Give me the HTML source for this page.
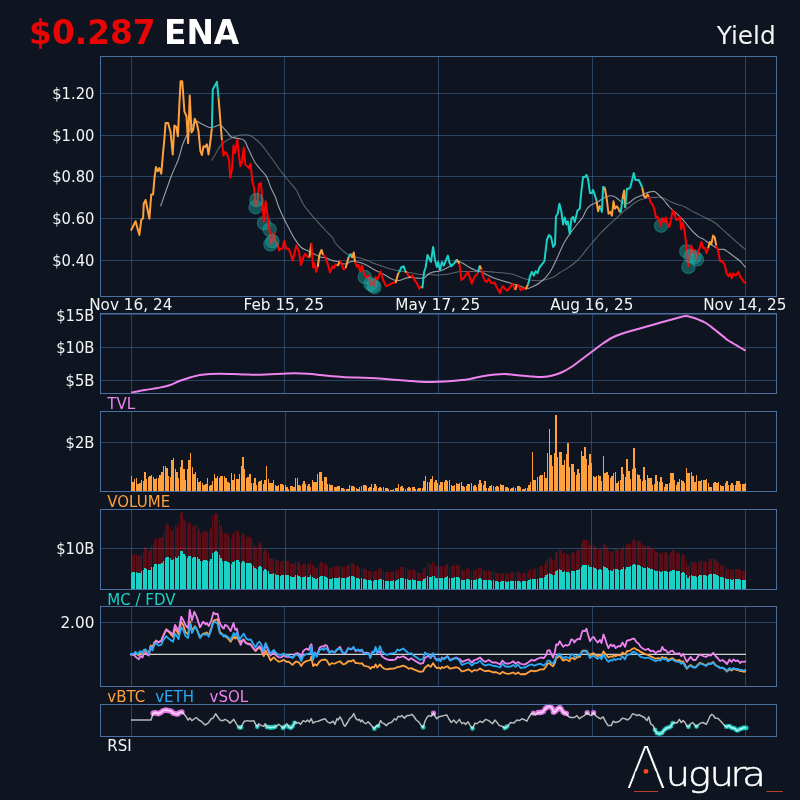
<!DOCTYPE html>
<html lang="en"><head><meta charset="utf-8"><title>ENA Yield</title>
<style>html,body{margin:0;padding:0;background:#0e1520;}body{width:800px;height:800px;overflow:hidden;}svg{display:block;will-change:transform;}</style>
</head><body>
<svg width="800" height="800" viewBox="0 0 800 800" font-family="'DejaVu Sans','Liberation Sans',sans-serif">
<rect width="800" height="800" fill="#0e1520"/>
<text x="29.1" y="44" font-size="32.8" font-weight="bold" fill="#e80505">$0.287</text>
<text x="164" y="44" font-size="32.8" font-weight="bold" fill="#ffffff">ENA</text>
<text x="775.7" y="44" font-size="24.8" fill="#f4f4f4" text-anchor="end">Yield</text>
<path d="M131.5 56.5V296.5M284.5 56.5V296.5M438.5 56.5V296.5M592.5 56.5V296.5M745.5 56.5V296.5" stroke="#4a70a2" stroke-opacity="0.5" stroke-width="1" fill="none" shape-rendering="crispEdges"/>
<path d="M100.5 93.5H776.5M100.5 135.5H776.5M100.5 176.5H776.5M100.5 218.5H776.5M100.5 260.5H776.5" stroke="#4a70a2" stroke-opacity="0.5" stroke-width="1" fill="none" shape-rendering="crispEdges"/>
<path d="M211.25 160.6C211.88 159.67 213.75 157.08 215 155C216.25 152.92 217.29 150.18 218.75 148.1C220.21 146.02 222.08 143.95 223.75 142.5C225.42 141.05 227.08 140.33 228.75 139.4C230.42 138.47 231.88 137.59 233.75 136.9C235.62 136.21 238.12 135.61 240 135.25C241.88 134.89 243.33 134.69 245 134.75C246.67 134.81 248.33 134.93 250 135.6C251.67 136.27 253.12 137.28 255 138.75C256.88 140.22 259.17 142.11 261.25 144.4C263.33 146.69 265.42 149.69 267.5 152.5C269.58 155.31 271.67 158.33 273.75 161.25C275.83 164.17 278.12 167.5 280 170C281.88 172.5 283.33 174.17 285 176.25C286.67 178.33 288.12 180.21 290 182.5C291.88 184.79 294.79 187.92 296.25 190C297.71 192.08 297.5 192.5 298.75 195C300 197.5 301.88 201.98 303.75 205C305.62 208.02 308.12 210.81 310 213.1C311.88 215.39 313.33 216.87 315 218.75C316.67 220.63 318.12 222.32 320 224.4C321.88 226.48 324.17 229.07 326.25 231.25C328.33 233.43 331.04 235.62 332.5 237.5C333.96 239.38 333.75 240.73 335 242.5C336.25 244.27 338.33 246.43 340 248.1C341.67 249.77 343.33 251.25 345 252.5C346.67 253.75 348.33 254.87 350 255.6C351.67 256.33 353.33 256.48 355 256.9C356.67 257.32 357.92 257.48 360 258.1C362.08 258.72 365 259.66 367.5 260.6C370 261.54 372.5 262.81 375 263.75C377.5 264.69 380 265.42 382.5 266.25C385 267.08 387.5 268.02 390 268.75C392.5 269.48 395 270.08 397.5 270.6C400 271.12 402.5 271.48 405 271.9C407.5 272.32 410 272.68 412.5 273.1C415 273.52 417.92 274.08 420 274.4C422.08 274.72 423.33 275 425 275C426.67 275 428.33 274.4 430 274.4C431.67 274.4 433.33 274.9 435 275C436.67 275.1 438.33 275.07 440 275C441.67 274.93 443.33 274.81 445 274.6C446.67 274.39 448.33 274.1 450 273.75C451.67 273.4 453.33 272.88 455 272.5C456.67 272.12 457.92 271.67 460 271.5C462.08 271.33 465 271.5 467.5 271.5C470 271.5 472.71 271.54 475 271.5C477.29 271.46 479.17 271.25 481.25 271.25C483.33 271.25 485.21 271.33 487.5 271.5C489.79 271.67 492.5 272.04 495 272.25C497.5 272.46 500 272.5 502.5 272.75C505 273 507.92 273.38 510 273.75C512.08 274.12 513.12 274.38 515 275C516.88 275.62 519.17 276.77 521.25 277.5C523.33 278.23 525.21 278.88 527.5 279.4C529.79 279.92 532.5 280.43 535 280.6C537.5 280.77 540.21 280.71 542.5 280.4C544.79 280.09 546.67 279.44 548.75 278.75C550.83 278.06 553.12 277.29 555 276.25C556.88 275.21 557.92 273.86 560 272.5C562.08 271.14 565 269.77 567.5 268.1C570 266.43 572.71 264.48 575 262.5C577.29 260.52 579.17 258.65 581.25 256.25C583.33 253.85 585.62 250.39 587.5 248.1C589.38 245.81 590.42 244.89 592.5 242.5C594.58 240.11 597.5 236.46 600 233.75C602.5 231.04 605 228.64 607.5 226.25C610 223.86 612.5 221.69 615 219.4C617.5 217.11 620.21 214.48 622.5 212.5C624.79 210.52 626.67 209.17 628.75 207.5C630.83 205.83 632.92 203.85 635 202.5C637.08 201.15 639.17 200.13 641.25 199.4C643.33 198.67 645.42 198.42 647.5 198.1C649.58 197.78 651.67 197.64 653.75 197.5C655.83 197.36 658.12 197.04 660 197.25C661.88 197.46 663.12 197.97 665 198.75C666.88 199.53 669.17 200.96 671.25 201.9C673.33 202.84 675.21 203.57 677.5 204.4C679.79 205.23 682.71 205.87 685 206.9C687.29 207.93 689.17 209.46 691.25 210.6C693.33 211.74 695.42 212.7 697.5 213.75C699.58 214.8 701.67 215.86 703.75 216.9C705.83 217.94 707.92 218.86 710 220C712.08 221.14 714.17 222.18 716.25 223.75C718.33 225.32 720.42 227.53 722.5 229.4C724.58 231.28 726.67 233.13 728.75 235C730.83 236.87 733.12 238.93 735 240.6C736.88 242.27 738.23 243.53 740 245C741.77 246.47 744.67 248.67 745.6 249.4" fill="none" stroke="#7c7f86" stroke-width="1.05" stroke-linejoin="round" opacity="0.74"/>
<path d="M160.6 206.25C162.38 201.25 168.33 183.96 171.25 176.25C174.17 168.54 176.22 165.21 178.1 160C179.97 154.79 181.03 149.17 182.5 145C183.97 140.83 185.65 137.6 186.9 135C188.15 132.4 189.07 131.07 190 129.4C190.93 127.73 191.35 126.36 192.5 125C193.65 123.64 195.65 121.57 196.9 121.25C198.15 120.93 198.65 122.38 200 123.1C201.35 123.82 203.33 124.87 205 125.6C206.67 126.33 208.33 127.32 210 127.5C211.67 127.68 213.54 127.12 215 126.7C216.46 126.28 217.92 125.28 218.75 125C219.58 124.72 219.38 124.68 220 125C220.62 125.32 221.25 125.65 222.5 126.9C223.75 128.15 226.04 130.83 227.5 132.5C228.96 134.17 229.9 135.97 231.25 136.9C232.6 137.83 234.14 137.79 235.6 138.1C237.06 138.41 238.53 138.33 240 138.75C241.47 139.17 243.15 139.24 244.4 140.6C245.65 141.96 246.36 144.5 247.5 146.9C248.64 149.3 250 152.4 251.25 155C252.5 157.6 253.54 160.21 255 162.5C256.46 164.79 258.33 166.77 260 168.75C261.67 170.73 263.75 172.73 265 174.4C266.25 176.07 266.46 176.36 267.5 178.75C268.54 181.14 270 185.83 271.25 188.75C272.5 191.67 273.75 193.21 275 196.25C276.25 199.29 277.29 203.32 278.75 207C280.21 210.68 282.08 214.78 283.75 218.3C285.42 221.82 286.88 224.58 288.75 228.1C290.62 231.62 292.92 236.17 295 239.4C297.08 242.63 299.17 245.63 301.25 247.5C303.33 249.37 305.42 249.56 307.5 250.6C309.58 251.64 311.67 252.7 313.75 253.75C315.83 254.8 317.92 256.17 320 256.9C322.08 257.62 324.17 257.48 326.25 258.1C328.33 258.72 330.42 260 332.5 260.6C334.58 261.2 337.08 261.18 338.75 261.7C340.42 262.22 341.25 263.41 342.5 263.75C343.75 264.09 345 264.06 346.25 263.75C347.5 263.44 348.75 262.32 350 261.9C351.25 261.48 352.08 261.15 353.75 261.25C355.42 261.35 357.92 261.88 360 262.5C362.08 263.12 364.17 263.96 366.25 265C368.33 266.04 370.42 267.6 372.5 268.75C374.58 269.9 376.67 270.86 378.75 271.9C380.83 272.94 382.92 273.86 385 275C387.08 276.14 389.38 277.82 391.25 278.75C393.12 279.68 394.58 280.39 396.25 280.6C397.92 280.81 399.58 280.42 401.25 280C402.92 279.58 404.58 278.52 406.25 278.1C407.92 277.68 409.58 277.5 411.25 277.5C412.92 277.5 414.38 278 416.25 278.1C418.12 278.2 421.04 278.2 422.5 278.1C423.96 278 423.96 278.23 425 277.5C426.04 276.77 427.29 274.68 428.75 273.75C430.21 272.82 432.08 272.32 433.75 271.9C435.42 271.48 437.08 271.67 438.75 271.25C440.42 270.83 442.08 270.12 443.75 269.4C445.42 268.67 447.08 267.84 448.75 266.9C450.42 265.96 452.19 264.69 453.75 263.75C455.31 262.81 456.64 261.36 458.1 261.25C459.56 261.14 460.73 262.16 462.5 263.1C464.27 264.04 466.67 265.75 468.75 266.9C470.83 268.05 472.92 269.17 475 270C477.08 270.83 479.17 271.07 481.25 271.9C483.33 272.73 485.42 273.97 487.5 275C489.58 276.03 491.67 277.27 493.75 278.1C495.83 278.93 497.92 279.37 500 280C502.08 280.63 504.17 281.27 506.25 281.9C508.33 282.52 510.42 283.13 512.5 283.75C514.58 284.37 517 285.03 518.75 285.6C520.5 286.18 521.54 286.68 523 287.2C524.46 287.72 525.71 288.91 527.5 288.75C529.29 288.59 531.67 287.29 533.75 286.25C535.83 285.21 537.92 284.06 540 282.5C542.08 280.94 544.38 278.98 546.25 276.9C548.12 274.82 549.58 272.82 551.25 270C552.92 267.18 554.58 263.54 556.25 260C557.92 256.46 559.79 251.88 561.25 248.75C562.71 245.62 563.33 244.06 565 241.25C566.67 238.44 569.17 234.82 571.25 231.9C573.33 228.98 575.62 226.15 577.5 223.75C579.38 221.35 581.04 219.79 582.5 217.5C583.96 215.21 585.1 211.88 586.25 210C587.4 208.12 588.15 207.29 589.4 206.25C590.65 205.21 592.19 204.58 593.75 203.75C595.31 202.92 597.08 202.19 598.75 201.25C600.42 200.31 602.08 198.97 603.75 198.1C605.42 197.22 607.08 196.31 608.75 196C610.42 195.69 612.29 195.79 613.75 196.25C615.21 196.71 616.25 197.81 617.5 198.75C618.75 199.69 620 201.07 621.25 201.9C622.5 202.73 623.75 203.55 625 203.75C626.25 203.95 627.5 203.72 628.75 203.1C630 202.47 631.25 200.93 632.5 200C633.75 199.07 634.79 198.23 636.25 197.5C637.71 196.77 639.58 196.33 641.25 195.6C642.92 194.87 644.79 193.72 646.25 193.1C647.71 192.48 648.64 192.17 650 191.9C651.36 191.63 652.94 190.98 654.4 191.5C655.86 192.02 657.19 193.58 658.75 195C660.31 196.42 662.08 198.12 663.75 200C665.42 201.88 667.08 204.38 668.75 206.25C670.42 208.12 672.08 209.69 673.75 211.25C675.42 212.81 677.08 214.04 678.75 215.6C680.42 217.16 682.08 218.72 683.75 220.6C685.42 222.48 687.08 224.92 688.75 226.9C690.42 228.88 692.08 230.83 693.75 232.5C695.42 234.17 697.08 235.75 698.75 236.9C700.42 238.05 702.08 238.37 703.75 239.4C705.42 240.43 707.08 241.96 708.75 243.1C710.42 244.24 712.08 245.2 713.75 246.25C715.42 247.3 717.08 248.88 718.75 249.4C720.42 249.93 722.08 248.88 723.75 249.4C725.42 249.92 727.08 251.36 728.75 252.5C730.42 253.64 732.08 255 733.75 256.25C735.42 257.5 737.29 258.75 738.75 260C740.21 261.25 741.36 262.5 742.5 263.75C743.64 265 745.08 266.88 745.6 267.5" fill="none" stroke="#b0b3b8" stroke-width="1.1" stroke-linejoin="round" opacity="0.88"/>
<circle cx="255.6" cy="207.2" r="6.7" fill="#20b2aa" fill-opacity="0.4" stroke="#20b2aa" stroke-opacity="0.4" stroke-width="1.2"/>
<circle cx="264" cy="223.2" r="6.7" fill="#20b2aa" fill-opacity="0.4" stroke="#20b2aa" stroke-opacity="0.4" stroke-width="1.2"/>
<circle cx="269.6" cy="229.6" r="6.7" fill="#20b2aa" fill-opacity="0.4" stroke="#20b2aa" stroke-opacity="0.4" stroke-width="1.2"/>
<circle cx="270.4" cy="244.4" r="6.7" fill="#20b2aa" fill-opacity="0.4" stroke="#20b2aa" stroke-opacity="0.4" stroke-width="1.2"/>
<circle cx="364.75" cy="277" r="6.7" fill="#20b2aa" fill-opacity="0.4" stroke="#20b2aa" stroke-opacity="0.4" stroke-width="1.2"/>
<circle cx="373" cy="285.5" r="6.7" fill="#20b2aa" fill-opacity="0.4" stroke="#20b2aa" stroke-opacity="0.4" stroke-width="1.2"/>
<circle cx="374.5" cy="287" r="6.7" fill="#20b2aa" fill-opacity="0.4" stroke="#20b2aa" stroke-opacity="0.4" stroke-width="1.2"/>
<circle cx="661.1" cy="225.7" r="6.7" fill="#20b2aa" fill-opacity="0.4" stroke="#20b2aa" stroke-opacity="0.4" stroke-width="1.2"/>
<circle cx="686.25" cy="251.25" r="6.7" fill="#20b2aa" fill-opacity="0.4" stroke="#20b2aa" stroke-opacity="0.4" stroke-width="1.2"/>
<circle cx="688.4" cy="266.9" r="6.7" fill="#20b2aa" fill-opacity="0.4" stroke="#20b2aa" stroke-opacity="0.4" stroke-width="1.2"/>
<circle cx="694.4" cy="256.9" r="6.7" fill="#20b2aa" fill-opacity="0.4" stroke="#20b2aa" stroke-opacity="0.4" stroke-width="1.2"/>
<circle cx="696.9" cy="259.4" r="6.7" fill="#20b2aa" fill-opacity="0.4" stroke="#20b2aa" stroke-opacity="0.4" stroke-width="1.2"/>
<polyline points="130.9,230.6 133.1,226.25 135.6,221.25 136.9,226.25 139.4,235 141.25,220 143.1,218.1 143.75,203.75 145.6,200 149.4,218.75 151.25,194.4 153.1,194.4 154.4,178.75 156,166.9 157.75,171.25 159.4,168.1 161.25,173.75 163.1,152.5 164.4,138.75 165.6,123.1 168.1,123.1 170.6,132.5 172.75,154.4 174.4,125.6 176.25,126.9 177.9,136.25 179.4,103.75 180.6,81.25 182.25,81.25 184.4,111.25 186.5,116.25 188.1,143.1 189.75,95.6 191.5,132.5 193.1,130 194.75,118.75 196.9,123.75 198.5,131.25 200.4,151.25 201.9,155 203.5,146.25 205.25,146.9 206.9,144.4 208.5,154.4 210.25,142.5 211.9,128.1" fill="none" stroke="#ffa03c" stroke-width="2" stroke-linejoin="round" stroke-linecap="butt"/>
<polyline points="211.9,128.1 212.75,89.4 216.9,81.9 218.5,97.5" fill="none" stroke="#19d1c5" stroke-width="2" stroke-linejoin="round" stroke-linecap="butt"/>
<polyline points="218.5,97.5 220,116.25 221.9,140" fill="none" stroke="#ffa03c" stroke-width="2" stroke-linejoin="round" stroke-linecap="butt"/>
<polyline points="221.9,140 223.5,155.6 225,151.9 226.9,153.75 229,160 230.25,177.5 231.9,170 233.5,145.6 235,153.1 237.25,139.4 238.75,153.75 240.4,166.25 241.9,162.5 243.75,147.5 245.4,165 247.25,166.25 248.75,168.1 250.6,163.75 252.25,181.25 254,187.5 255.6,206.25 257.5,200 259,184.4 260.9,183.1 262.5,201.9 263.75,221.9 265.6,201.25 267.5,215 269.4,228.75 271,243.75 274,233.1 275.6,242.5 277.25,243.1 279,250.6 280.6,248.75 282.5,248.75 284.4,240.6 286.25,248.75 288.75,248.75 290.6,253.75 292.75,260.6 294.4,253.75 296.25,245.6 298.75,250.6 301,265 303.1,258.1 305,253.75 306.9,256.25 309.4,257.5" fill="none" stroke="#ff0000" stroke-width="2" stroke-linejoin="round" stroke-linecap="butt"/>
<polyline points="309.4,257.5 311.25,243.1" fill="none" stroke="#ffa03c" stroke-width="2" stroke-linejoin="round" stroke-linecap="butt"/>
<polyline points="311.25,243.1 313.1,267.5 314.4,263.1 316.25,271.9 317.75,266.9" fill="none" stroke="#ff0000" stroke-width="2" stroke-linejoin="round" stroke-linecap="butt"/>
<polyline points="317.75,266.9 319.4,255 321.5,250 323.1,255" fill="none" stroke="#ffa03c" stroke-width="2" stroke-linejoin="round" stroke-linecap="butt"/>
<polyline points="323.1,255 325,256.25 328.1,265 330,272.5 332.5,266.25 334,268.1 335.6,264.4 336.9,265.5" fill="none" stroke="#ff0000" stroke-width="2" stroke-linejoin="round" stroke-linecap="butt"/>
<polyline points="336.9,265.5 338.1,265 340,260.6" fill="none" stroke="#ffa03c" stroke-width="2" stroke-linejoin="round" stroke-linecap="butt"/>
<polyline points="340,260.6 341.9,265 343.5,269.4 345.6,268.1" fill="none" stroke="#ff0000" stroke-width="2" stroke-linejoin="round" stroke-linecap="butt"/>
<polyline points="345.6,268.1 347.5,261.25 348.75,256.9" fill="none" stroke="#ffa03c" stroke-width="2" stroke-linejoin="round" stroke-linecap="butt"/>
<polyline points="348.75,256.9 350.25,254.4" fill="none" stroke="#19d1c5" stroke-width="2" stroke-linejoin="round" stroke-linecap="butt"/>
<polyline points="350.25,254.4 351,253.75" fill="none" stroke="#ffa03c" stroke-width="2" stroke-linejoin="round" stroke-linecap="butt"/>
<polyline points="351,253.75 352,258" fill="none" stroke="#19d1c5" stroke-width="2" stroke-linejoin="round" stroke-linecap="butt"/>
<polyline points="352,258 353.75,252.5 355,261.9" fill="none" stroke="#ffa03c" stroke-width="2" stroke-linejoin="round" stroke-linecap="butt"/>
<polyline points="355,261.9 356.9,266.9 358.5,265 360,271.25 361.9,265.6 364.4,275 366.25,277.5 368.1,275.6 370.6,285 372.5,281.9 374,286.25 375.6,276.9 377.5,279.4 380.6,271.25 383.1,280 386.25,286.25 390,284.4 393.1,282.5 395.6,283.1" fill="none" stroke="#ff0000" stroke-width="2" stroke-linejoin="round" stroke-linecap="butt"/>
<polyline points="395.6,283.1 398.1,273.75 399,272.5" fill="none" stroke="#ffa03c" stroke-width="2" stroke-linejoin="round" stroke-linecap="butt"/>
<polyline points="399,272.5 401.25,267.5 403.75,266.25 405.25,271.25" fill="none" stroke="#19d1c5" stroke-width="2" stroke-linejoin="round" stroke-linecap="butt"/>
<polyline points="405.25,271.25 406.9,272.5" fill="none" stroke="#ffa03c" stroke-width="2" stroke-linejoin="round" stroke-linecap="butt"/>
<polyline points="406.9,272.5 408.75,277" fill="none" stroke="#ff0000" stroke-width="2" stroke-linejoin="round" stroke-linecap="butt"/>
<polyline points="408.75,277 410.6,276.9" fill="none" stroke="#ffa03c" stroke-width="2" stroke-linejoin="round" stroke-linecap="butt"/>
<polyline points="410.6,276.9 412.5,275.6 414.4,280 416.9,283.1 419.4,288.75 421.25,286.25" fill="none" stroke="#ff0000" stroke-width="2" stroke-linejoin="round" stroke-linecap="butt"/>
<polyline points="421.25,286.25 422.5,287.5 424,272.5 425.6,267.5 427.5,255 429.4,258.75 431,261.9 433.1,246.9 435,260 436.9,266.9 438.1,261.9 440,270 441.9,261.9 443.75,265.6 445.6,261.25 447.9,255.6 449.4,262.5 451.25,266.25 453.75,263.75 456.9,259.4" fill="none" stroke="#19d1c5" stroke-width="2" stroke-linejoin="round" stroke-linecap="butt"/>
<polyline points="456.9,259.4 459.4,263.75" fill="none" stroke="#ffa03c" stroke-width="2" stroke-linejoin="round" stroke-linecap="butt"/>
<polyline points="459.4,263.75 461.5,280 463.75,278.1 466.25,274.4 468.1,271.9 470,278.1 471.9,283.75 474.4,276.9 476.25,275 478.1,272.5" fill="none" stroke="#ff0000" stroke-width="2" stroke-linejoin="round" stroke-linecap="butt"/>
<polyline points="478.1,272.5 479.75,265.6" fill="none" stroke="#19d1c5" stroke-width="2" stroke-linejoin="round" stroke-linecap="butt"/>
<polyline points="479.75,265.6 481.25,269.4" fill="none" stroke="#ffa03c" stroke-width="2" stroke-linejoin="round" stroke-linecap="butt"/>
<polyline points="481.25,269.4 483.1,276.25 485,280.6 486.9,281.9 488.75,278.75 491.25,283.1 493.1,283.1 494.4,282.5 496.9,287.5 500,293.1 502.5,286.25 505,288.75 507.5,290.6 510,287.5 512.5,283.75 514.4,288.5 515.2,290" fill="none" stroke="#ff0000" stroke-width="2" stroke-linejoin="round" stroke-linecap="butt"/>
<polyline points="515.2,290 516.9,284.6" fill="none" stroke="#ffa03c" stroke-width="2" stroke-linejoin="round" stroke-linecap="butt"/>
<polyline points="516.9,284.6 518.5,285 520.6,290 522.5,289.4 524.4,288.1 525.6,289.4" fill="none" stroke="#ff0000" stroke-width="2" stroke-linejoin="round" stroke-linecap="butt"/>
<polyline points="525.6,289.4 528.1,284.4" fill="none" stroke="#ffa03c" stroke-width="2" stroke-linejoin="round" stroke-linecap="butt"/>
<polyline points="528.1,284.4 530,276.25 531.9,271.9 533.75,275.6 535.6,271.25 537.5,273.1 539.4,267.5 541.9,264.4 544.4,261.25 546.9,240 549,235 551,236.9 553.1,246.9 555,244.4 556,216.25 557.75,213.75 559.4,203.75 561.2,210.5 563.1,224.4 564.75,217.5 566.25,224.4 567.75,221.25 569.75,233.9 571.5,218.4 573.1,216.9 574.75,221.9 577.5,210.6 579.75,208.75 581.25,192.5 583.1,176.9 585,176.9 586.6,175 588.1,179.4 590,193.1 591.9,193.1 593.1,190 595,195.6 596.6,201.25" fill="none" stroke="#19d1c5" stroke-width="2" stroke-linejoin="round" stroke-linecap="butt"/>
<polyline points="596.6,201.25 598.1,211.25 599.75,206.25 600.6,207.5" fill="none" stroke="#ffa03c" stroke-width="2" stroke-linejoin="round" stroke-linecap="butt"/>
<polyline points="600.6,207.5 601.9,211.9 603.1,186.9 604.75,187.5" fill="none" stroke="#19d1c5" stroke-width="2" stroke-linejoin="round" stroke-linecap="butt"/>
<polyline points="604.75,187.5 606.9,200 608.5,213.75 610.4,211.9 611.9,215.6 613.5,201.25 615,208.75 616.9,206.25 618.5,208.75 620,212.5" fill="none" stroke="#ffa03c" stroke-width="2" stroke-linejoin="round" stroke-linecap="butt"/>
<polyline points="620,212.5 620.9,211.25 622.5,198.75" fill="none" stroke="#19d1c5" stroke-width="2" stroke-linejoin="round" stroke-linecap="butt"/>
<polyline points="622.5,198.75 624.1,190.6 625.2,208.1" fill="none" stroke="#ffa03c" stroke-width="2" stroke-linejoin="round" stroke-linecap="butt"/>
<polyline points="625.2,208.1 626.9,188.75 628.75,188.75 630.25,187.5 632.25,179.4 633.75,173.1 635.4,180 638.75,180 640.6,183.75 642.25,187.5" fill="none" stroke="#19d1c5" stroke-width="2" stroke-linejoin="round" stroke-linecap="butt"/>
<polyline points="642.25,187.5 644,196.25 645.6,197.5 647.5,194.4 649,196.9" fill="none" stroke="#ffa03c" stroke-width="2" stroke-linejoin="round" stroke-linecap="butt"/>
<polyline points="649,196.9 650.6,202.5 652.5,204.4 654.4,209.4 656,217.5 657.5,216.9 659,220 660.6,225.6 662.5,218.1 664,221.9 665.9,217.5 667.5,223.75 669.4,226.9 671.25,218.1 672.75,210.6 674.4,213.1 676.25,220 678.1,219.4 679.75,216.9 681.25,229.4 682.75,222.5 684.4,229.4 686.25,245 688.1,266.25 689.75,255 691.25,245.6 693.1,252.5 694.75,250 696.5,259.4 698.1,251.9 699.75,247.5 701.5,241.9 703.1,248.1 705,248.1 706.6,253.1 708.1,248.1" fill="none" stroke="#ff0000" stroke-width="2" stroke-linejoin="round" stroke-linecap="butt"/>
<polyline points="708.1,248.1 710,241.9 711.25,244.4 713.1,235.6 714.75,237.5 716.25,245.6" fill="none" stroke="#ffa03c" stroke-width="2" stroke-linejoin="round" stroke-linecap="butt"/>
<polyline points="716.25,245.6 718.1,250.6 720,261 722.8,261.9 724.9,265.3 726.5,273.4 728.5,276.25 730.1,273.4 731.7,278.1 733.3,273.4 735.6,275.6 738.4,271.9 740.4,277.2 742.2,279 743.75,281.9 746.25,283.1" fill="none" stroke="#ff0000" stroke-width="2" stroke-linejoin="round" stroke-linecap="butt"/>
<circle cx="256.4" cy="200" r="6.7" fill="#20b2aa" fill-opacity="0.4" stroke="#20b2aa" stroke-opacity="0.4" stroke-width="1.2"/>
<circle cx="272.4" cy="241.2" r="6.7" fill="#20b2aa" fill-opacity="0.4" stroke="#20b2aa" stroke-opacity="0.4" stroke-width="1.2"/>
<circle cx="370.5" cy="284" r="6.7" fill="#20b2aa" fill-opacity="0.4" stroke="#20b2aa" stroke-opacity="0.4" stroke-width="1.2"/>
<circle cx="690.6" cy="256.25" r="6.7" fill="#20b2aa" fill-opacity="0.4" stroke="#20b2aa" stroke-opacity="0.4" stroke-width="1.2"/>
<rect x="100.5" y="56.5" width="676" height="240" fill="none" stroke="#4a70a2" stroke-width="1" shape-rendering="crispEdges"/>
<text transform="translate(94.4,99.2) scale(0.965,1)" font-size="15.28" fill="#f4f4f4" text-anchor="end">$1.20</text>
<text transform="translate(94.4,141.2) scale(0.965,1)" font-size="15.28" fill="#f4f4f4" text-anchor="end">$1.00</text>
<text transform="translate(94.4,182.2) scale(0.965,1)" font-size="15.28" fill="#f4f4f4" text-anchor="end">$0.80</text>
<text transform="translate(94.4,224.2) scale(0.965,1)" font-size="15.28" fill="#f4f4f4" text-anchor="end">$0.60</text>
<text transform="translate(94.4,266.2) scale(0.965,1)" font-size="15.28" fill="#f4f4f4" text-anchor="end">$0.40</text>
<text x="130.75" y="310.3" font-size="15.28" fill="#f4f4f4" text-anchor="middle">Nov 16, 24</text>
<text x="283.75" y="310.3" font-size="15.28" fill="#f4f4f4" text-anchor="middle">Feb 15, 25</text>
<text x="437.75" y="310.3" font-size="15.28" fill="#f4f4f4" text-anchor="middle">May 17, 25</text>
<text x="591.75" y="310.3" font-size="15.28" fill="#f4f4f4" text-anchor="middle">Aug 16, 25</text>
<text x="744.75" y="310.3" font-size="15.28" fill="#f4f4f4" text-anchor="middle">Nov 14, 25</text>
<path d="M131.5 313.5V393.5M284.5 313.5V393.5M438.5 313.5V393.5M592.5 313.5V393.5M745.5 313.5V393.5" stroke="#4a70a2" stroke-opacity="0.5" stroke-width="1" fill="none" shape-rendering="crispEdges"/>
<path d="M100.5 314.5H776.5M100.5 347.5H776.5M100.5 380.5H776.5" stroke="#4a70a2" stroke-opacity="0.5" stroke-width="1" fill="none" shape-rendering="crispEdges"/>
<path d="M131.25 392.5C133.54 392.08 140.62 390.75 145 390C149.38 389.25 153.54 388.75 157.5 388C161.46 387.25 165 386.71 168.75 385.5C172.5 384.29 176.46 382.08 180 380.75C183.54 379.42 186.67 378.46 190 377.5C193.33 376.54 196.67 375.58 200 375C203.33 374.42 206.67 374.21 210 374C213.33 373.79 216.25 373.75 220 373.75C223.75 373.75 228.33 373.88 232.5 374C236.67 374.12 240.83 374.38 245 374.5C249.17 374.62 253.33 374.79 257.5 374.75C261.67 374.71 265.83 374.42 270 374.25C274.17 374.08 278.33 373.92 282.5 373.75C286.67 373.58 290.83 373.25 295 373.25C299.17 373.25 303.33 373.48 307.5 373.75C311.67 374.02 315.83 374.48 320 374.9C324.17 375.32 328.33 375.86 332.5 376.25C336.67 376.64 340.83 377.04 345 377.25C349.17 377.46 353.33 377.38 357.5 377.5C361.67 377.62 365.83 377.79 370 378C374.17 378.21 378.33 378.46 382.5 378.75C386.67 379.04 390.83 379.42 395 379.75C399.17 380.08 403.33 380.42 407.5 380.75C411.67 381.08 415.83 381.54 420 381.75C424.17 381.96 428.33 382.04 432.5 382C436.67 381.96 440.83 381.75 445 381.5C449.17 381.25 453.33 380.92 457.5 380.5C461.67 380.08 465.83 379.71 470 379C474.17 378.29 478.33 377 482.5 376.25C486.67 375.5 491.25 374.88 495 374.5C498.75 374.12 500.83 373.85 505 374C509.17 374.15 515.42 374.98 520 375.4C524.58 375.82 528.75 376.23 532.5 376.5C536.25 376.77 539.17 377.17 542.5 377C545.83 376.83 549.17 376.33 552.5 375.5C555.83 374.67 559.17 373.54 562.5 372C565.83 370.46 569.17 368.46 572.5 366.25C575.83 364.04 579.17 361.25 582.5 358.75C585.83 356.25 589.17 353.75 592.5 351.25C595.83 348.75 599.17 346.04 602.5 343.75C605.83 341.46 609.17 339.21 612.5 337.5C615.83 335.79 619.17 334.67 622.5 333.5C625.83 332.33 628.75 331.58 632.5 330.5C636.25 329.42 640.83 328.17 645 327C649.17 325.83 653.33 324.67 657.5 323.5C661.67 322.33 666.25 321.03 670 320C673.75 318.97 677.4 317.97 680 317.3C682.6 316.63 683.52 315.97 685.6 316C687.68 316.03 690.31 316.88 692.5 317.5C694.69 318.12 696.67 318.92 698.75 319.75C700.83 320.58 702.92 321.31 705 322.5C707.08 323.69 709.17 325.33 711.25 326.9C713.33 328.47 715.42 330.23 717.5 331.9C719.58 333.57 722.08 335.55 723.75 336.9C725.42 338.25 725.83 338.86 727.5 340C729.17 341.14 731.67 342.5 733.75 343.75C735.83 345 738.02 346.36 740 347.5C741.98 348.64 744.67 350.08 745.6 350.6" fill="none" stroke="#ee82ee" stroke-width="2" stroke-linejoin="round"/>
<rect x="100.5" y="313.5" width="676" height="80" fill="none" stroke="#4a70a2" stroke-width="1" shape-rendering="crispEdges"/>
<text transform="translate(94.4,320.6) scale(0.965,1)" font-size="15.28" fill="#f4f4f4" text-anchor="end">$15B</text>
<text transform="translate(94.4,353.2) scale(0.965,1)" font-size="15.28" fill="#f4f4f4" text-anchor="end">$10B</text>
<text transform="translate(94.4,386.2) scale(0.965,1)" font-size="15.28" fill="#f4f4f4" text-anchor="end">$5B</text>
<text x="107.3" y="408.8" font-size="15" fill="#ee82ee">TVL</text>
<path d="M131.5 411.5V491.5M285.5 411.5V491.5M438.5 411.5V491.5M591.5 411.5V491.5M745.5 411.5V491.5" stroke="#4a70a2" stroke-opacity="0.5" stroke-width="1" fill="none" shape-rendering="crispEdges"/>
<path d="M100.5 442.5H776.5" stroke="#4a70a2" stroke-opacity="0.5" stroke-width="1" fill="none" shape-rendering="crispEdges"/>
<path d="M130.72 491.5v-15.5h1.35v15.5zM132.42 491.5v-9.5h1.35v9.5zM134.11 491.5v-12.5h1.35v12.5zM135.8 491.5v-13.5h1.35v13.5zM137.49 491.5v-7.5h1.35v7.5zM139.18 491.5v-8.5h1.35v8.5zM140.88 491.5v-11.5h1.35v11.5zM142.57 491.5v-10.5h1.35v10.5zM144.26 491.5v-19.5h1.35v19.5zM145.95 491.5v-12.5h1.35v12.5zM147.64 491.5v-14.5h1.35v14.5zM149.34 491.5v-15.5h1.35v15.5zM151.03 491.5v-16.5h1.35v16.5zM152.72 491.5v-14.5h1.35v14.5zM154.41 491.5v-13h1.35v13zM156.1 491.5v-13.5h1.35v13.5zM157.8 491.5v-14h1.35v14zM159.49 491.5v-16.5h1.35v16.5zM161.18 491.5v-19.5h1.35v19.5zM162.87 491.5v-25.5h1.35v25.5zM164.56 491.5v-25.5h1.35v25.5zM166.26 491.5v-23.5h1.35v23.5zM167.95 491.5v-15.5h1.35v15.5zM169.64 491.5v-14.5h1.35v14.5zM171.33 491.5v-31.5h1.35v31.5zM173.02 491.5v-33.5h1.35v33.5zM174.72 491.5v-22.5h1.35v22.5zM176.41 491.5v-19.5h1.35v19.5zM178.1 491.5v-13.5h1.35v13.5zM179.79 491.5v-24.5h1.35v24.5zM181.48 491.5v-31.5h1.35v31.5zM183.18 491.5v-23h1.35v23zM184.87 491.5v-11.5h1.35v11.5zM186.56 491.5v-22.5h1.35v22.5zM188.25 491.5v-31.5h1.35v31.5zM189.94 491.5v-38.5h1.35v38.5zM191.64 491.5v-24.5h1.35v24.5zM193.33 491.5v-17.5h1.35v17.5zM195.02 491.5v-19.5h1.35v19.5zM196.71 491.5v-13.5h1.35v13.5zM198.4 491.5v-9.5h1.35v9.5zM200.1 491.5v-10.5h1.35v10.5zM201.79 491.5v-8.5h1.35v8.5zM203.48 491.5v-6.5h1.35v6.5zM205.17 491.5v-7.5h1.35v7.5zM206.86 491.5v-13.5h1.35v13.5zM208.56 491.5v-5.5h1.35v5.5zM210.25 491.5v-6.5h1.35v6.5zM211.94 491.5v-10.5h1.35v10.5zM213.63 491.5v-17.5h1.35v17.5zM215.32 491.5v-13.5h1.35v13.5zM217.02 491.5v-15.5h1.35v15.5zM218.71 491.5v-14h1.35v14zM220.4 491.5v-15.5h1.35v15.5zM222.09 491.5v-15.5h1.35v15.5zM223.78 491.5v-15.5h1.35v15.5zM225.48 491.5v-14h1.35v14zM227.17 491.5v-9.5h1.35v9.5zM228.86 491.5v-8.5h1.35v8.5zM230.55 491.5v-18.5h1.35v18.5zM232.24 491.5v-11.5h1.35v11.5zM233.94 491.5v-17.5h1.35v17.5zM235.63 491.5v-12.5h1.35v12.5zM237.32 491.5v-12.5h1.35v12.5zM239.01 491.5v-17.5h1.35v17.5zM240.7 491.5v-25.5h1.35v25.5zM242.4 491.5v-34.5h1.35v34.5zM244.09 491.5v-22.5h1.35v22.5zM245.78 491.5v-13.5h1.35v13.5zM247.47 491.5v-14.5h1.35v14.5zM249.16 491.5v-17.5h1.35v17.5zM250.86 491.5v-8.5h1.35v8.5zM252.55 491.5v-8.5h1.35v8.5zM254.24 491.5v-13.5h1.35v13.5zM255.93 491.5v-6.5h1.35v6.5zM257.62 491.5v-9.5h1.35v9.5zM259.32 491.5v-10.5h1.35v10.5zM261.01 491.5v-11.5h1.35v11.5zM262.7 491.5v-7.5h1.35v7.5zM264.39 491.5v-11.5h1.35v11.5zM266.08 491.5v-25.5h1.35v25.5zM267.78 491.5v-12.5h1.35v12.5zM269.47 491.5v-8.5h1.35v8.5zM271.16 491.5v-8.5h1.35v8.5zM272.85 491.5v-11.5h1.35v11.5zM274.54 491.5v-6.5h1.35v6.5zM276.24 491.5v-5.5h1.35v5.5zM277.93 491.5v-6.5h1.35v6.5zM279.62 491.5v-7.5h1.35v7.5zM281.31 491.5v-7.5h1.35v7.5zM283 491.5v-7h1.35v7zM284.7 491.5v-7h1.35v7zM286.39 491.5v-4.5h1.35v4.5zM288.08 491.5v-2.5h1.35v2.5zM289.77 491.5v-5.5h1.35v5.5zM291.46 491.5v-5.5h1.35v5.5zM293.16 491.5v-4.5h1.35v4.5zM294.85 491.5v-13.5h1.35v13.5zM296.54 491.5v-13.5h1.35v13.5zM298.23 491.5v-6.5h1.35v6.5zM299.92 491.5v-5.5h1.35v5.5zM301.62 491.5v-7.5h1.35v7.5zM303.31 491.5v-10.5h1.35v10.5zM305 491.5v-7.5h1.35v7.5zM306.69 491.5v-5.5h1.35v5.5zM308.38 491.5v-7.5h1.35v7.5zM310.08 491.5v-4.5h1.35v4.5zM311.77 491.5v-11.5h1.35v11.5zM313.46 491.5v-9.5h1.35v9.5zM315.15 491.5v-9.5h1.35v9.5zM316.84 491.5v-17.5h1.35v17.5zM318.54 491.5v-19.5h1.35v19.5zM320.23 491.5v-19.5h1.35v19.5zM321.92 491.5v-10.5h1.35v10.5zM323.61 491.5v-14.5h1.35v14.5zM325.3 491.5v-14.5h1.35v14.5zM327 491.5v-7.5h1.35v7.5zM328.69 491.5v-7.5h1.35v7.5zM330.38 491.5v-6.5h1.35v6.5zM332.07 491.5v-6.5h1.35v6.5zM333.76 491.5v-4.5h1.35v4.5zM335.46 491.5v-4.5h1.35v4.5zM337.15 491.5v-5.5h1.35v5.5zM338.84 491.5v-5.5h1.35v5.5zM340.53 491.5v-3.5h1.35v3.5zM342.22 491.5v-3.5h1.35v3.5zM343.92 491.5v-2.5h1.35v2.5zM345.61 491.5v-2.5h1.35v2.5zM347.3 491.5v-2.5h1.35v2.5zM348.99 491.5v-6.5h1.35v6.5zM350.68 491.5v-5.5h1.35v5.5zM352.38 491.5v-5.5h1.35v5.5zM354.07 491.5v-4.5h1.35v4.5zM355.76 491.5v-3.5h1.35v3.5zM357.45 491.5v-2.5h1.35v2.5zM359.14 491.5v-4.5h1.35v4.5zM360.84 491.5v-5.5h1.35v5.5zM362.53 491.5v-6.5h1.35v6.5zM364.22 491.5v-6.5h1.35v6.5zM365.91 491.5v-5.5h1.35v5.5zM367.6 491.5v-3.5h1.35v3.5zM369.3 491.5v-4.5h1.35v4.5zM370.99 491.5v-7.5h1.35v7.5zM372.68 491.5v-3.5h1.35v3.5zM374.37 491.5v-7.5h1.35v7.5zM376.06 491.5v-5.5h1.35v5.5zM377.76 491.5v-3.5h1.35v3.5zM379.45 491.5v-4.5h1.35v4.5zM381.14 491.5v-3.5h1.35v3.5zM382.83 491.5v-4.5h1.35v4.5zM384.52 491.5v-3.5h1.35v3.5zM386.22 491.5v-3.5h1.35v3.5zM387.91 491.5v-2.5h1.35v2.5zM389.6 491.5v-1.5h1.35v1.5zM391.29 491.5v-1.5h1.35v1.5zM392.98 491.5v-2.5h1.35v2.5zM394.68 491.5v-3.5h1.35v3.5zM396.37 491.5v-3.5h1.35v3.5zM398.06 491.5v-7.5h1.35v7.5zM399.75 491.5v-4.5h1.35v4.5zM401.44 491.5v-5.5h1.35v5.5zM403.14 491.5v-3.5h1.35v3.5zM404.83 491.5v-2.5h1.35v2.5zM406.52 491.5v-3.5h1.35v3.5zM408.21 491.5v-4.5h1.35v4.5zM409.91 491.5v-3.5h1.35v3.5zM411.6 491.5v-4.5h1.35v4.5zM413.29 491.5v-4.5h1.35v4.5zM414.98 491.5v-2.5h1.35v2.5zM416.67 491.5v-2.5h1.35v2.5zM418.37 491.5v-3.5h1.35v3.5zM420.06 491.5v-3.5h1.35v3.5zM421.75 491.5v-3.5h1.35v3.5zM423.44 491.5v-10.5h1.35v10.5zM425.13 491.5v-15.5h1.35v15.5zM426.83 491.5v-9.5h1.35v9.5zM428.52 491.5v-9.5h1.35v9.5zM430.21 491.5v-12.5h1.35v12.5zM431.9 491.5v-15.5h1.35v15.5zM433.59 491.5v-9.5h1.35v9.5zM435.29 491.5v-11.5h1.35v11.5zM436.98 491.5v-8.5h1.35v8.5zM438.67 491.5v-6.5h1.35v6.5zM440.36 491.5v-9.5h1.35v9.5zM442.05 491.5v-9.5h1.35v9.5zM443.75 491.5v-9.5h1.35v9.5zM445.44 491.5v-11.5h1.35v11.5zM447.13 491.5v-10.5h1.35v10.5zM448.82 491.5v-11.5h1.35v11.5zM450.51 491.5v-6.5h1.35v6.5zM452.21 491.5v-5.5h1.35v5.5zM453.9 491.5v-6.5h1.35v6.5zM455.59 491.5v-8.5h1.35v8.5zM457.28 491.5v-7.5h1.35v7.5zM458.97 491.5v-8.5h1.35v8.5zM460.67 491.5v-9.5h1.35v9.5zM462.36 491.5v-5.5h1.35v5.5zM464.05 491.5v-4.5h1.35v4.5zM465.74 491.5v-5.5h1.35v5.5zM467.43 491.5v-7.5h1.35v7.5zM469.13 491.5v-7.5h1.35v7.5zM470.82 491.5v-8.5h1.35v8.5zM472.51 491.5v-5.5h1.35v5.5zM474.2 491.5v-6.5h1.35v6.5zM475.89 491.5v-4.5h1.35v4.5zM477.59 491.5v-7.5h1.35v7.5zM479.28 491.5v-11.5h1.35v11.5zM480.97 491.5v-8.5h1.35v8.5zM482.66 491.5v-6.5h1.35v6.5zM484.35 491.5v-10.5h1.35v10.5zM486.05 491.5v-3.5h1.35v3.5zM487.74 491.5v-3.5h1.35v3.5zM489.43 491.5v-5.5h1.35v5.5zM491.12 491.5v-6.5h1.35v6.5zM492.81 491.5v-5.5h1.35v5.5zM494.51 491.5v-4.5h1.35v4.5zM496.2 491.5v-5.5h1.35v5.5zM497.89 491.5v-4.5h1.35v4.5zM499.58 491.5v-7.5h1.35v7.5zM501.27 491.5v-6.5h1.35v6.5zM502.97 491.5v-6.5h1.35v6.5zM504.66 491.5v-4.5h1.35v4.5zM506.35 491.5v-4.5h1.35v4.5zM508.04 491.5v-3.5h1.35v3.5zM509.73 491.5v-2.5h1.35v2.5zM511.43 491.5v-3.5h1.35v3.5zM513.12 491.5v-4.5h1.35v4.5zM514.81 491.5v-3.5h1.35v3.5zM516.5 491.5v-5.5h1.35v5.5zM518.19 491.5v-5.5h1.35v5.5zM519.89 491.5v-4.5h1.35v4.5zM521.58 491.5v-2.5h1.35v2.5zM523.27 491.5v-2.5h1.35v2.5zM524.96 491.5v-3.5h1.35v3.5zM526.65 491.5v-3.5h1.35v3.5zM528.35 491.5v-6.5h1.35v6.5zM530.04 491.5v-9.5h1.35v9.5zM531.73 491.5v-39.5h1.35v39.5zM533.42 491.5v-11.5h1.35v11.5zM535.11 491.5v-11.5h1.35v11.5zM536.81 491.5v-14.5h1.35v14.5zM538.5 491.5v-15.5h1.35v15.5zM540.19 491.5v-16.5h1.35v16.5zM541.88 491.5v-16.5h1.35v16.5zM543.57 491.5v-19.5h1.35v19.5zM545.27 491.5v-13.5h1.35v13.5zM546.96 491.5v-38.5h1.35v38.5zM548.65 491.5v-62.5h1.35v62.5zM550.34 491.5v-36.5h1.35v36.5zM552.03 491.5v-25.5h1.35v25.5zM553.73 491.5v-38.5h1.35v38.5zM555.42 491.5v-76.5h1.35v76.5zM557.11 491.5v-34.5h1.35v34.5zM558.8 491.5v-39.5h1.35v39.5zM560.49 491.5v-39.5h1.35v39.5zM562.19 491.5v-26.5h1.35v26.5zM563.88 491.5v-31.5h1.35v31.5zM565.57 491.5v-37.5h1.35v37.5zM567.26 491.5v-48.5h1.35v48.5zM568.95 491.5v-24.5h1.35v24.5zM570.65 491.5v-27.5h1.35v27.5zM572.34 491.5v-27.5h1.35v27.5zM574.03 491.5v-19.5h1.35v19.5zM575.72 491.5v-16.5h1.35v16.5zM577.41 491.5v-22.5h1.35v22.5zM579.11 491.5v-18.5h1.35v18.5zM580.8 491.5v-40.5h1.35v40.5zM582.49 491.5v-35.5h1.35v35.5zM584.18 491.5v-44.5h1.35v44.5zM585.87 491.5v-32.5h1.35v32.5zM587.57 491.5v-26.5h1.35v26.5zM589.26 491.5v-37.5h1.35v37.5zM590.95 491.5v-28.5h1.35v28.5zM592.64 491.5v-15.5h1.35v15.5zM594.33 491.5v-14.5h1.35v14.5zM596.03 491.5v-15.5h1.35v15.5zM597.72 491.5v-16.5h1.35v16.5zM599.41 491.5v-15.5h1.35v15.5zM601.1 491.5v-10.5h1.35v10.5zM602.79 491.5v-35.5h1.35v35.5zM604.49 491.5v-18.5h1.35v18.5zM606.18 491.5v-19.5h1.35v19.5zM607.87 491.5v-16.5h1.35v16.5zM609.56 491.5v-13.5h1.35v13.5zM611.25 491.5v-15.5h1.35v15.5zM612.95 491.5v-18.5h1.35v18.5zM614.64 491.5v-19.5h1.35v19.5zM616.33 491.5v-8.5h1.35v8.5zM618.02 491.5v-10.5h1.35v10.5zM619.71 491.5v-11.5h1.35v11.5zM621.41 491.5v-24.5h1.35v24.5zM623.1 491.5v-17.5h1.35v17.5zM624.79 491.5v-14.5h1.35v14.5zM626.48 491.5v-32.5h1.35v32.5zM628.17 491.5v-20.5h1.35v20.5zM629.87 491.5v-12.5h1.35v12.5zM631.56 491.5v-22.5h1.35v22.5zM633.25 491.5v-43.5h1.35v43.5zM634.94 491.5v-23.5h1.35v23.5zM636.63 491.5v-17.5h1.35v17.5zM638.33 491.5v-16.5h1.35v16.5zM640.02 491.5v-12.5h1.35v12.5zM641.71 491.5v-10.5h1.35v10.5zM643.4 491.5v-24.5h1.35v24.5zM645.09 491.5v-11.5h1.35v11.5zM646.79 491.5v-16.5h1.35v16.5zM648.48 491.5v-13.5h1.35v13.5zM650.17 491.5v-13.5h1.35v13.5zM651.86 491.5v-6.5h1.35v6.5zM653.55 491.5v-7.5h1.35v7.5zM655.25 491.5v-16.5h1.35v16.5zM656.94 491.5v-10.5h1.35v10.5zM658.63 491.5v-9.5h1.35v9.5zM660.32 491.5v-14.5h1.35v14.5zM662.01 491.5v-9.5h1.35v9.5zM663.71 491.5v-4.5h1.35v4.5zM665.4 491.5v-7.5h1.35v7.5zM667.09 491.5v-7.5h1.35v7.5zM668.78 491.5v-8.5h1.35v8.5zM670.47 491.5v-18.5h1.35v18.5zM672.17 491.5v-18.5h1.35v18.5zM673.86 491.5v-11.5h1.35v11.5zM675.55 491.5v-6.5h1.35v6.5zM677.24 491.5v-9.5h1.35v9.5zM678.93 491.5v-12.5h1.35v12.5zM680.63 491.5v-11.5h1.35v11.5zM682.32 491.5v-10.5h1.35v10.5zM684.01 491.5v-8.5h1.35v8.5zM685.7 491.5v-23.5h1.35v23.5zM687.39 491.5v-18.5h1.35v18.5zM689.09 491.5v-18.5h1.35v18.5zM690.78 491.5v-19.5h1.35v19.5zM692.47 491.5v-15.5h1.35v15.5zM694.16 491.5v-9.5h1.35v9.5zM695.85 491.5v-16.5h1.35v16.5zM697.55 491.5v-10.5h1.35v10.5zM699.24 491.5v-10.5h1.35v10.5zM700.93 491.5v-11.5h1.35v11.5zM702.62 491.5v-11.5h1.35v11.5zM704.31 491.5v-11.5h1.35v11.5zM706.01 491.5v-12.5h1.35v12.5zM707.7 491.5v-8.5h1.35v8.5zM709.39 491.5v-4.5h1.35v4.5zM711.08 491.5v-4.5h1.35v4.5zM712.77 491.5v-8.5h1.35v8.5zM714.47 491.5v-9.5h1.35v9.5zM716.16 491.5v-8.5h1.35v8.5zM717.85 491.5v-9.5h1.35v9.5zM719.54 491.5v-6.5h1.35v6.5zM721.24 491.5v-5.5h1.35v5.5zM722.93 491.5v-5.5h1.35v5.5zM724.62 491.5v-8.5h1.35v8.5zM726.31 491.5v-10.5h1.35v10.5zM728 491.5v-6.5h1.35v6.5zM729.7 491.5v-6.5h1.35v6.5zM731.39 491.5v-8.5h1.35v8.5zM733.08 491.5v-6.5h1.35v6.5zM734.77 491.5v-6.5h1.35v6.5zM736.46 491.5v-10.5h1.35v10.5zM738.16 491.5v-10.5h1.35v10.5zM739.85 491.5v-7.5h1.35v7.5zM741.54 491.5v-7.5h1.35v7.5zM743.23 491.5v-7.5h1.35v7.5zM744.92 491.5v-8.5h1.35v8.5z" fill="#ffa03c" shape-rendering="crispEdges"/>
<rect x="100.5" y="411.5" width="676" height="80" fill="none" stroke="#4a70a2" stroke-width="1" shape-rendering="crispEdges"/>
<text transform="translate(94.4,448.2) scale(0.965,1)" font-size="15.28" fill="#f4f4f4" text-anchor="end">$2B</text>
<text x="107.3" y="506.9" font-size="15" fill="#ffa03c">VOLUME</text>
<path d="M131.5 509.5V589.5M285.5 509.5V589.5M438.5 509.5V589.5M591.5 509.5V589.5M745.5 509.5V589.5" stroke="#4a70a2" stroke-opacity="0.5" stroke-width="1" fill="none" shape-rendering="crispEdges"/>
<path d="M100.5 548.5H776.5" stroke="#4a70a2" stroke-opacity="0.5" stroke-width="1" fill="none" shape-rendering="crispEdges"/>
<path d="M130.72 589.5v-33.75h1.35v33.75zM132.42 589.5v-34.74h1.35v34.74zM134.11 589.5v-35.74h1.35v35.74zM135.8 589.5v-35.23h1.35v35.23zM137.49 589.5v-33.44h1.35v33.44zM139.18 589.5v-33.27h1.35v33.27zM140.88 589.5v-36.68h1.35v36.68zM142.57 589.5v-38.09h1.35v38.09zM144.26 589.5v-42.1h1.35v42.1zM145.95 589.5v-41h1.35v41zM147.64 589.5v-38.53h1.35v38.53zM149.34 589.5v-39.34h1.35v39.34zM151.03 589.5v-44.15h1.35v44.15zM152.72 589.5v-45.2h1.35v45.2zM154.41 589.5v-50.27h1.35v50.27zM156.1 589.5v-51.69h1.35v51.69zM157.8 589.5v-51.38h1.35v51.38zM159.49 589.5v-51.22h1.35v51.22zM161.18 589.5v-52.29h1.35v52.29zM162.87 589.5v-57.91h1.35v57.91zM164.56 589.5v-63.8h1.35v63.8zM166.26 589.5v-65.19h1.35v65.19zM167.95 589.5v-64.6h1.35v64.6zM169.64 589.5v-62.73h1.35v62.73zM171.33 589.5v-58.18h1.35v58.18zM173.02 589.5v-60.84h1.35v60.84zM174.72 589.5v-64.24h1.35v64.24zM176.41 589.5v-62.67h1.35v62.67zM178.1 589.5v-66.91h1.35v66.91zM179.79 589.5v-76.81h1.35v76.81zM181.48 589.5v-77.53h1.35v77.53zM183.18 589.5v-70.94h1.35v70.94zM184.87 589.5v-67.88h1.35v67.88zM186.56 589.5v-63.56h1.35v63.56zM188.25 589.5v-66.32h1.35v66.32zM189.94 589.5v-67.88h1.35v67.88zM191.64 589.5v-62.79h1.35v62.79zM193.33 589.5v-64.97h1.35v64.97zM195.02 589.5v-65.82h1.35v65.82zM196.71 589.5v-64.32h1.35v64.32zM198.4 589.5v-60.98h1.35v60.98zM200.1 589.5v-56.6h1.35v56.6zM201.79 589.5v-56.68h1.35v56.68zM203.48 589.5v-58.28h1.35v58.28zM205.17 589.5v-58.43h1.35v58.43zM206.86 589.5v-57.72h1.35v57.72zM208.56 589.5v-57.42h1.35v57.42zM210.25 589.5v-61.2h1.35v61.2zM211.94 589.5v-73.34h1.35v73.34zM213.63 589.5v-75.96h1.35v75.96zM215.32 589.5v-76.86h1.35v76.86zM217.02 589.5v-75.06h1.35v75.06zM218.71 589.5v-69.48h1.35v69.48zM220.4 589.5v-63.24h1.35v63.24zM222.09 589.5v-57.7h1.35v57.7zM223.78 589.5v-56.29h1.35v56.29zM225.48 589.5v-56.36h1.35v56.36zM227.17 589.5v-55.31h1.35v55.31zM228.86 589.5v-52.08h1.35v52.08zM230.55 589.5v-50.45h1.35v50.45zM232.24 589.5v-55.94h1.35v55.94zM233.94 589.5v-56.9h1.35v56.9zM235.63 589.5v-58.68h1.35v58.68zM237.32 589.5v-58.27h1.35v58.27zM239.01 589.5v-54.04h1.35v54.04zM240.7 589.5v-53.18h1.35v53.18zM242.4 589.5v-56.36h1.35v56.36zM244.09 589.5v-54.81h1.35v54.81zM245.78 589.5v-52.61h1.35v52.61zM247.47 589.5v-52.13h1.35v52.13zM249.16 589.5v-52.66h1.35v52.66zM250.86 589.5v-50.27h1.35v50.27zM252.55 589.5v-47h1.35v47zM254.24 589.5v-43.01h1.35v43.01zM255.93 589.5v-41.63h1.35v41.63zM257.62 589.5v-44.95h1.35v44.95zM259.32 589.5v-47.3h1.35v47.3zM261.01 589.5v-44.76h1.35v44.76zM262.7 589.5v-37.79h1.35v37.79zM264.39 589.5v-40.37h1.35v40.37zM266.08 589.5v-39.64h1.35v39.64zM267.78 589.5v-36.03h1.35v36.03zM269.47 589.5v-31.95h1.35v31.95zM271.16 589.5v-30.46h1.35v30.46zM272.85 589.5v-32.23h1.35v32.23zM274.54 589.5v-30.61h1.35v30.61zM276.24 589.5v-29.81h1.35v29.81zM277.93 589.5v-28.06h1.35v28.06zM279.62 589.5v-28h1.35v28zM281.31 589.5v-28.11h1.35v28.11zM283 589.5v-29.6h1.35v29.6zM284.7 589.5v-29.25h1.35v29.25zM286.39 589.5v-28.11h1.35v28.11zM288.08 589.5v-28.1h1.35v28.1zM289.77 589.5v-26.75h1.35v26.75zM291.46 589.5v-25.18h1.35v25.18zM293.16 589.5v-25.94h1.35v25.94zM294.85 589.5v-28.09h1.35v28.09zM296.54 589.5v-28.47h1.35v28.47zM298.23 589.5v-27.26h1.35v27.26zM299.92 589.5v-24.07h1.35v24.07zM301.62 589.5v-24.57h1.35v24.57zM303.31 589.5v-25.95h1.35v25.95zM305 589.5v-26.37h1.35v26.37zM306.69 589.5v-25.82h1.35v25.82zM308.38 589.5v-25.58h1.35v25.58zM310.08 589.5v-28.63h1.35v28.63zM311.77 589.5v-25.12h1.35v25.12zM313.46 589.5v-23.61h1.35v23.61zM315.15 589.5v-21.87h1.35v21.87zM316.84 589.5v-22.53h1.35v22.53zM318.54 589.5v-25.87h1.35v25.87zM320.23 589.5v-27.32h1.35v27.32zM321.92 589.5v-26.73h1.35v26.73zM323.61 589.5v-26.03h1.35v26.03zM325.3 589.5v-25.08h1.35v25.08zM327 589.5v-23.67h1.35v23.67zM328.69 589.5v-21.84h1.35v21.84zM330.38 589.5v-21.88h1.35v21.88zM332.07 589.5v-22.85h1.35v22.85zM333.76 589.5v-22.7h1.35v22.7zM335.46 589.5v-23.36h1.35v23.36zM337.15 589.5v-23.28h1.35v23.28zM338.84 589.5v-24.28h1.35v24.28zM340.53 589.5v-23.78h1.35v23.78zM342.22 589.5v-22.5h1.35v22.5zM343.92 589.5v-22.21h1.35v22.21zM345.61 589.5v-23.13h1.35v23.13zM347.3 589.5v-24.91h1.35v24.91zM348.99 589.5v-26.15h1.35v26.15zM350.68 589.5v-26.18h1.35v26.18zM352.38 589.5v-26.35h1.35v26.35zM354.07 589.5v-24.79h1.35v24.79zM355.76 589.5v-23.11h1.35v23.11zM357.45 589.5v-23.18h1.35v23.18zM359.14 589.5v-21.69h1.35v21.69zM360.84 589.5v-22.8h1.35v22.8zM362.53 589.5v-21.69h1.35v21.69zM364.22 589.5v-20.16h1.35v20.16zM365.91 589.5v-19.73h1.35v19.73zM367.6 589.5v-19.98h1.35v19.98zM369.3 589.5v-18.11h1.35v18.11zM370.99 589.5v-17.92h1.35v17.92zM372.68 589.5v-17.59h1.35v17.59zM374.37 589.5v-18.85h1.35v18.85zM376.06 589.5v-19.36h1.35v19.36zM377.76 589.5v-19.79h1.35v19.79zM379.45 589.5v-21.1h1.35v21.1zM381.14 589.5v-20.21h1.35v20.21zM382.83 589.5v-18.65h1.35v18.65zM384.52 589.5v-17.66h1.35v17.66zM386.22 589.5v-17.14h1.35v17.14zM387.91 589.5v-17.38h1.35v17.38zM389.6 589.5v-17.64h1.35v17.64zM391.29 589.5v-17.94h1.35v17.94zM392.98 589.5v-18.11h1.35v18.11zM394.68 589.5v-17.99h1.35v17.99zM396.37 589.5v-19.57h1.35v19.57zM398.06 589.5v-20.99h1.35v20.99zM399.75 589.5v-22.04h1.35v22.04zM401.44 589.5v-22.7h1.35v22.7zM403.14 589.5v-22.88h1.35v22.88zM404.83 589.5v-21.41h1.35v21.41zM406.52 589.5v-20.89h1.35v20.89zM408.21 589.5v-19.77h1.35v19.77zM409.91 589.5v-19.8h1.35v19.8zM411.6 589.5v-20.14h1.35v20.14zM413.29 589.5v-19.18h1.35v19.18zM414.98 589.5v-18.43h1.35v18.43zM416.67 589.5v-17.67h1.35v17.67zM418.37 589.5v-16.54h1.35v16.54zM420.06 589.5v-16.84h1.35v16.84zM421.75 589.5v-16.69h1.35v16.69zM423.44 589.5v-21.21h1.35v21.21zM425.13 589.5v-22.98h1.35v22.98zM426.83 589.5v-26.26h1.35v26.26zM428.52 589.5v-25.28h1.35v25.28zM430.21 589.5v-24.29h1.35v24.29zM431.9 589.5v-27.55h1.35v27.55zM433.59 589.5v-26.27h1.35v26.27zM435.29 589.5v-23.76h1.35v23.76zM436.98 589.5v-23.68h1.35v23.68zM438.67 589.5v-22.66h1.35v22.66zM440.36 589.5v-23.14h1.35v23.14zM442.05 589.5v-23.74h1.35v23.74zM443.75 589.5v-23.6h1.35v23.6zM445.44 589.5v-24.79h1.35v24.79zM447.13 589.5v-26.02h1.35v26.02zM448.82 589.5v-23.99h1.35v23.99zM450.51 589.5v-22.98h1.35v22.98zM452.21 589.5v-23.42h1.35v23.42zM453.9 589.5v-24.02h1.35v24.02zM455.59 589.5v-24.71h1.35v24.71zM457.28 589.5v-24.42h1.35v24.42zM458.97 589.5v-23.11h1.35v23.11zM460.67 589.5v-19.25h1.35v19.25zM462.36 589.5v-19.27h1.35v19.27zM464.05 589.5v-19.87h1.35v19.87zM465.74 589.5v-20.61h1.35v20.61zM467.43 589.5v-21.27h1.35v21.27zM469.13 589.5v-19.64h1.35v19.64zM470.82 589.5v-18.14h1.35v18.14zM472.51 589.5v-18.82h1.35v18.82zM474.2 589.5v-19.95h1.35v19.95zM475.89 589.5v-20.49h1.35v20.49zM477.59 589.5v-21.3h1.35v21.3zM479.28 589.5v-22.98h1.35v22.98zM480.97 589.5v-21.58h1.35v21.58zM482.66 589.5v-19.83h1.35v19.83zM484.35 589.5v-18.7h1.35v18.7zM486.05 589.5v-18.36h1.35v18.36zM487.74 589.5v-19.09h1.35v19.09zM489.43 589.5v-18.56h1.35v18.56zM491.12 589.5v-17.97h1.35v17.97zM492.81 589.5v-18.02h1.35v18.02zM494.51 589.5v-17.69h1.35v17.69zM496.2 589.5v-16.69h1.35v16.69zM497.89 589.5v-15.78h1.35v15.78zM499.58 589.5v-15.23h1.35v15.23zM501.27 589.5v-16.6h1.35v16.6zM502.97 589.5v-16.7h1.35v16.7zM504.66 589.5v-16.23h1.35v16.23zM506.35 589.5v-15.86h1.35v15.86zM508.04 589.5v-16.2h1.35v16.2zM509.73 589.5v-16.85h1.35v16.85zM511.43 589.5v-17.6h1.35v17.6zM513.12 589.5v-16.82h1.35v16.82zM514.81 589.5v-16.2h1.35v16.2zM516.5 589.5v-17.51h1.35v17.51zM518.19 589.5v-17.15h1.35v17.15zM519.89 589.5v-15.96h1.35v15.96zM521.58 589.5v-16.09h1.35v16.09zM523.27 589.5v-16.4h1.35v16.4zM524.96 589.5v-16.13h1.35v16.13zM526.65 589.5v-17.13h1.35v17.13zM528.35 589.5v-18.76h1.35v18.76zM530.04 589.5v-20.48h1.35v20.48zM531.73 589.5v-20.98h1.35v20.98zM533.42 589.5v-20.43h1.35v20.43zM535.11 589.5v-21.41h1.35v21.41zM536.81 589.5v-20.93h1.35v20.93zM538.5 589.5v-22.38h1.35v22.38zM540.19 589.5v-23.11h1.35v23.11zM541.88 589.5v-23.73h1.35v23.73zM543.57 589.5v-24.36h1.35v24.36zM545.27 589.5v-28.29h1.35v28.29zM546.96 589.5v-31.21h1.35v31.21zM548.65 589.5v-32.07h1.35v32.07zM550.34 589.5v-31.58h1.35v31.58zM552.03 589.5v-29.2h1.35v29.2zM553.73 589.5v-29.16h1.35v29.16zM555.42 589.5v-37.74h1.35v37.74zM557.11 589.5v-38.5h1.35v38.5zM558.8 589.5v-41.3h1.35v41.3zM560.49 589.5v-39.43h1.35v39.43zM562.19 589.5v-35.8h1.35v35.8zM563.88 589.5v-37.09h1.35v37.09zM565.57 589.5v-35.3h1.35v35.3zM567.26 589.5v-35.87h1.35v35.87zM568.95 589.5v-32.71h1.35v32.71zM570.65 589.5v-36.6h1.35v36.6zM572.34 589.5v-37.48h1.35v37.48zM574.03 589.5v-36.07h1.35v36.07zM575.72 589.5v-38.03h1.35v38.03zM577.41 589.5v-39.51h1.35v39.51zM579.11 589.5v-40.02h1.35v40.02zM580.8 589.5v-45.27h1.35v45.27zM582.49 589.5v-49.31h1.35v49.31zM584.18 589.5v-49.31h1.35v49.31zM585.87 589.5v-49.85h1.35v49.85zM587.57 589.5v-48.27h1.35v48.27zM589.26 589.5v-44.67h1.35v44.67zM590.95 589.5v-44.53h1.35v44.53zM592.64 589.5v-45.25h1.35v45.25zM594.33 589.5v-43.78h1.35v43.78zM596.03 589.5v-41.92h1.35v41.92zM597.72 589.5v-39.44h1.35v39.44zM599.41 589.5v-40.5h1.35v40.5zM601.1 589.5v-39.1h1.35v39.1zM602.79 589.5v-46.32h1.35v46.32zM604.49 589.5v-45.47h1.35v45.47zM606.18 589.5v-42.57h1.35v42.57zM607.87 589.5v-38.45h1.35v38.45zM609.56 589.5v-38.94h1.35v38.94zM611.25 589.5v-37.97h1.35v37.97zM612.95 589.5v-41.94h1.35v41.94zM614.64 589.5v-40.03h1.35v40.03zM616.33 589.5v-40.6h1.35v40.6zM618.02 589.5v-39.76h1.35v39.76zM619.71 589.5v-38.96h1.35v38.96zM621.41 589.5v-41.9h1.35v41.9zM623.1 589.5v-44.78h1.35v44.78zM624.79 589.5v-41h1.35v41zM626.48 589.5v-45.81h1.35v45.81zM628.17 589.5v-45.84h1.35v45.84zM629.87 589.5v-46.53h1.35v46.53zM631.56 589.5v-48.55h1.35v48.55zM633.25 589.5v-50.21h1.35v50.21zM634.94 589.5v-48.39h1.35v48.39zM636.63 589.5v-48.39h1.35v48.39zM638.33 589.5v-48.24h1.35v48.24zM640.02 589.5v-47.22h1.35v47.22zM641.71 589.5v-45.98h1.35v45.98zM643.4 589.5v-43.58h1.35v43.58zM645.09 589.5v-43.31h1.35v43.31zM646.79 589.5v-44.13h1.35v44.13zM648.48 589.5v-43.25h1.35v43.25zM650.17 589.5v-41.68h1.35v41.68zM651.86 589.5v-41.16h1.35v41.16zM653.55 589.5v-39.85h1.35v39.85zM655.25 589.5v-37.44h1.35v37.44zM656.94 589.5v-37.44h1.35v37.44zM658.63 589.5v-36.27h1.35v36.27zM660.32 589.5v-35.4h1.35v35.4zM662.01 589.5v-37.01h1.35v37.01zM663.71 589.5v-36.29h1.35v36.29zM665.4 589.5v-37.13h1.35v37.13zM667.09 589.5v-35.35h1.35v35.35zM668.78 589.5v-34.64h1.35v34.64zM670.47 589.5v-37.01h1.35v37.01zM672.17 589.5v-39.32h1.35v39.32zM673.86 589.5v-38.48h1.35v38.48zM675.55 589.5v-36.62h1.35v36.62zM677.24 589.5v-36.75h1.35v36.75zM678.93 589.5v-37.44h1.35v37.44zM680.63 589.5v-33.89h1.35v33.89zM682.32 589.5v-35.55h1.35v35.55zM684.01 589.5v-33.1h1.35v33.1zM685.7 589.5v-28.77h1.35v28.77zM687.39 589.5v-23.04h1.35v23.04zM689.09 589.5v-26.29h1.35v26.29zM690.78 589.5v-28.81h1.35v28.81zM692.47 589.5v-27.02h1.35v27.02zM694.16 589.5v-27.6h1.35v27.6zM695.85 589.5v-25.01h1.35v25.01zM697.55 589.5v-27.28h1.35v27.28zM699.24 589.5v-28.63h1.35v28.63zM700.93 589.5v-30.01h1.35v30.01zM702.62 589.5v-28.3h1.35v28.3zM704.31 589.5v-28.3h1.35v28.3zM706.01 589.5v-26.91h1.35v26.91zM707.7 589.5v-28.56h1.35v28.56zM709.39 589.5v-30.09h1.35v30.09zM711.08 589.5v-30.11h1.35v30.11zM712.77 589.5v-31.87h1.35v31.87zM714.47 589.5v-30.8h1.35v30.8zM716.16 589.5v-28.57h1.35v28.57zM717.85 589.5v-26.87h1.35v26.87zM719.54 589.5v-24.47h1.35v24.47zM721.24 589.5v-24.31h1.35v24.31zM722.93 589.5v-23.84h1.35v23.84zM724.62 589.5v-22.63h1.35v22.63zM726.31 589.5v-20.63h1.35v20.63zM728 589.5v-20.09h1.35v20.09zM729.7 589.5v-20.6h1.35v20.6zM731.39 589.5v-19.76h1.35v19.76zM733.08 589.5v-20.7h1.35v20.7zM734.77 589.5v-20.23h1.35v20.23zM736.46 589.5v-20.78h1.35v20.78zM738.16 589.5v-20.94h1.35v20.94zM739.85 589.5v-19.68h1.35v19.68zM741.54 589.5v-19.17h1.35v19.17zM743.23 589.5v-18.3h1.35v18.3zM744.92 589.5v-18.06h1.35v18.06z" fill="#ff0000" fill-opacity="0.31" shape-rendering="crispEdges"/>
<path d="M130.72 589.5v-16.88h1.35v16.88zM132.42 589.5v-17.37h1.35v17.37zM134.11 589.5v-17.87h1.35v17.87zM135.8 589.5v-17.61h1.35v17.61zM137.49 589.5v-16.72h1.35v16.72zM139.18 589.5v-16.63h1.35v16.63zM140.88 589.5v-18.34h1.35v18.34zM142.57 589.5v-19.05h1.35v19.05zM144.26 589.5v-21.05h1.35v21.05zM145.95 589.5v-20.5h1.35v20.5zM147.64 589.5v-19.27h1.35v19.27zM149.34 589.5v-19.67h1.35v19.67zM151.03 589.5v-22.07h1.35v22.07zM152.72 589.5v-22.6h1.35v22.6zM154.41 589.5v-25.13h1.35v25.13zM156.1 589.5v-25.84h1.35v25.84zM157.8 589.5v-25.69h1.35v25.69zM159.49 589.5v-25.61h1.35v25.61zM161.18 589.5v-26.15h1.35v26.15zM162.87 589.5v-28.95h1.35v28.95zM164.56 589.5v-31.9h1.35v31.9zM166.26 589.5v-32.59h1.35v32.59zM167.95 589.5v-32.3h1.35v32.3zM169.64 589.5v-31.36h1.35v31.36zM171.33 589.5v-29.09h1.35v29.09zM173.02 589.5v-30.42h1.35v30.42zM174.72 589.5v-32.12h1.35v32.12zM176.41 589.5v-31.33h1.35v31.33zM178.1 589.5v-33.45h1.35v33.45zM179.79 589.5v-38.4h1.35v38.4zM181.48 589.5v-38.77h1.35v38.77zM183.18 589.5v-35.47h1.35v35.47zM184.87 589.5v-33.94h1.35v33.94zM186.56 589.5v-31.78h1.35v31.78zM188.25 589.5v-33.16h1.35v33.16zM189.94 589.5v-33.94h1.35v33.94zM191.64 589.5v-31.39h1.35v31.39zM193.33 589.5v-32.48h1.35v32.48zM195.02 589.5v-32.91h1.35v32.91zM196.71 589.5v-32.16h1.35v32.16zM198.4 589.5v-30.49h1.35v30.49zM200.1 589.5v-28.3h1.35v28.3zM201.79 589.5v-28.34h1.35v28.34zM203.48 589.5v-29.14h1.35v29.14zM205.17 589.5v-29.21h1.35v29.21zM206.86 589.5v-28.86h1.35v28.86zM208.56 589.5v-28.71h1.35v28.71zM210.25 589.5v-30.6h1.35v30.6zM211.94 589.5v-36.67h1.35v36.67zM213.63 589.5v-37.98h1.35v37.98zM215.32 589.5v-38.43h1.35v38.43zM217.02 589.5v-37.53h1.35v37.53zM218.71 589.5v-34.74h1.35v34.74zM220.4 589.5v-31.62h1.35v31.62zM222.09 589.5v-28.85h1.35v28.85zM223.78 589.5v-28.15h1.35v28.15zM225.48 589.5v-28.18h1.35v28.18zM227.17 589.5v-27.66h1.35v27.66zM228.86 589.5v-26.04h1.35v26.04zM230.55 589.5v-25.22h1.35v25.22zM232.24 589.5v-27.97h1.35v27.97zM233.94 589.5v-28.45h1.35v28.45zM235.63 589.5v-29.34h1.35v29.34zM237.32 589.5v-29.13h1.35v29.13zM239.01 589.5v-27.02h1.35v27.02zM240.7 589.5v-26.59h1.35v26.59zM242.4 589.5v-28.18h1.35v28.18zM244.09 589.5v-27.4h1.35v27.4zM245.78 589.5v-26.31h1.35v26.31zM247.47 589.5v-26.06h1.35v26.06zM249.16 589.5v-26.33h1.35v26.33zM250.86 589.5v-25.14h1.35v25.14zM252.55 589.5v-23.5h1.35v23.5zM254.24 589.5v-21.51h1.35v21.51zM255.93 589.5v-20.81h1.35v20.81zM257.62 589.5v-22.48h1.35v22.48zM259.32 589.5v-23.65h1.35v23.65zM261.01 589.5v-22.38h1.35v22.38zM262.7 589.5v-18.9h1.35v18.9zM264.39 589.5v-20.19h1.35v20.19zM266.08 589.5v-19.82h1.35v19.82zM267.78 589.5v-18.02h1.35v18.02zM269.47 589.5v-15.97h1.35v15.97zM271.16 589.5v-15.23h1.35v15.23zM272.85 589.5v-16.12h1.35v16.12zM274.54 589.5v-15.3h1.35v15.3zM276.24 589.5v-14.91h1.35v14.91zM277.93 589.5v-14.03h1.35v14.03zM279.62 589.5v-14h1.35v14zM281.31 589.5v-14.05h1.35v14.05zM283 589.5v-14.8h1.35v14.8zM284.7 589.5v-14.62h1.35v14.62zM286.39 589.5v-14.05h1.35v14.05zM288.08 589.5v-14.05h1.35v14.05zM289.77 589.5v-13.38h1.35v13.38zM291.46 589.5v-12.59h1.35v12.59zM293.16 589.5v-12.97h1.35v12.97zM294.85 589.5v-14.05h1.35v14.05zM296.54 589.5v-14.23h1.35v14.23zM298.23 589.5v-13.63h1.35v13.63zM299.92 589.5v-12.03h1.35v12.03zM301.62 589.5v-12.28h1.35v12.28zM303.31 589.5v-12.97h1.35v12.97zM305 589.5v-13.18h1.35v13.18zM306.69 589.5v-12.91h1.35v12.91zM308.38 589.5v-12.79h1.35v12.79zM310.08 589.5v-14.32h1.35v14.32zM311.77 589.5v-12.56h1.35v12.56zM313.46 589.5v-11.81h1.35v11.81zM315.15 589.5v-10.93h1.35v10.93zM316.84 589.5v-11.26h1.35v11.26zM318.54 589.5v-12.93h1.35v12.93zM320.23 589.5v-13.66h1.35v13.66zM321.92 589.5v-13.36h1.35v13.36zM323.61 589.5v-13.02h1.35v13.02zM325.3 589.5v-12.54h1.35v12.54zM327 589.5v-11.83h1.35v11.83zM328.69 589.5v-10.92h1.35v10.92zM330.38 589.5v-10.94h1.35v10.94zM332.07 589.5v-11.43h1.35v11.43zM333.76 589.5v-11.35h1.35v11.35zM335.46 589.5v-11.68h1.35v11.68zM337.15 589.5v-11.64h1.35v11.64zM338.84 589.5v-12.14h1.35v12.14zM340.53 589.5v-11.89h1.35v11.89zM342.22 589.5v-11.25h1.35v11.25zM343.92 589.5v-11.11h1.35v11.11zM345.61 589.5v-11.56h1.35v11.56zM347.3 589.5v-12.45h1.35v12.45zM348.99 589.5v-13.08h1.35v13.08zM350.68 589.5v-13.09h1.35v13.09zM352.38 589.5v-13.18h1.35v13.18zM354.07 589.5v-12.4h1.35v12.4zM355.76 589.5v-11.56h1.35v11.56zM357.45 589.5v-11.59h1.35v11.59zM359.14 589.5v-10.84h1.35v10.84zM360.84 589.5v-11.4h1.35v11.4zM362.53 589.5v-10.84h1.35v10.84zM364.22 589.5v-10.08h1.35v10.08zM365.91 589.5v-9.86h1.35v9.86zM367.6 589.5v-9.99h1.35v9.99zM369.3 589.5v-9.05h1.35v9.05zM370.99 589.5v-8.96h1.35v8.96zM372.68 589.5v-8.8h1.35v8.8zM374.37 589.5v-9.43h1.35v9.43zM376.06 589.5v-9.68h1.35v9.68zM377.76 589.5v-9.89h1.35v9.89zM379.45 589.5v-10.55h1.35v10.55zM381.14 589.5v-10.11h1.35v10.11zM382.83 589.5v-9.32h1.35v9.32zM384.52 589.5v-8.83h1.35v8.83zM386.22 589.5v-8.57h1.35v8.57zM387.91 589.5v-8.69h1.35v8.69zM389.6 589.5v-8.82h1.35v8.82zM391.29 589.5v-8.97h1.35v8.97zM392.98 589.5v-9.05h1.35v9.05zM394.68 589.5v-8.99h1.35v8.99zM396.37 589.5v-9.78h1.35v9.78zM398.06 589.5v-10.5h1.35v10.5zM399.75 589.5v-11.02h1.35v11.02zM401.44 589.5v-11.35h1.35v11.35zM403.14 589.5v-11.44h1.35v11.44zM404.83 589.5v-10.71h1.35v10.71zM406.52 589.5v-10.44h1.35v10.44zM408.21 589.5v-9.89h1.35v9.89zM409.91 589.5v-9.9h1.35v9.9zM411.6 589.5v-10.07h1.35v10.07zM413.29 589.5v-9.59h1.35v9.59zM414.98 589.5v-9.21h1.35v9.21zM416.67 589.5v-8.84h1.35v8.84zM418.37 589.5v-8.27h1.35v8.27zM420.06 589.5v-8.42h1.35v8.42zM421.75 589.5v-8.35h1.35v8.35zM423.44 589.5v-10.6h1.35v10.6zM425.13 589.5v-11.49h1.35v11.49zM426.83 589.5v-13.13h1.35v13.13zM428.52 589.5v-12.64h1.35v12.64zM430.21 589.5v-12.15h1.35v12.15zM431.9 589.5v-13.78h1.35v13.78zM433.59 589.5v-13.14h1.35v13.14zM435.29 589.5v-11.88h1.35v11.88zM436.98 589.5v-11.84h1.35v11.84zM438.67 589.5v-11.33h1.35v11.33zM440.36 589.5v-11.57h1.35v11.57zM442.05 589.5v-11.87h1.35v11.87zM443.75 589.5v-11.8h1.35v11.8zM445.44 589.5v-12.4h1.35v12.4zM447.13 589.5v-13.01h1.35v13.01zM448.82 589.5v-12h1.35v12zM450.51 589.5v-11.49h1.35v11.49zM452.21 589.5v-11.71h1.35v11.71zM453.9 589.5v-12.01h1.35v12.01zM455.59 589.5v-12.35h1.35v12.35zM457.28 589.5v-12.21h1.35v12.21zM458.97 589.5v-11.55h1.35v11.55zM460.67 589.5v-9.62h1.35v9.62zM462.36 589.5v-9.63h1.35v9.63zM464.05 589.5v-9.94h1.35v9.94zM465.74 589.5v-10.3h1.35v10.3zM467.43 589.5v-10.63h1.35v10.63zM469.13 589.5v-9.82h1.35v9.82zM470.82 589.5v-9.07h1.35v9.07zM472.51 589.5v-9.41h1.35v9.41zM474.2 589.5v-9.97h1.35v9.97zM475.89 589.5v-10.24h1.35v10.24zM477.59 589.5v-10.65h1.35v10.65zM479.28 589.5v-11.49h1.35v11.49zM480.97 589.5v-10.79h1.35v10.79zM482.66 589.5v-9.92h1.35v9.92zM484.35 589.5v-9.35h1.35v9.35zM486.05 589.5v-9.18h1.35v9.18zM487.74 589.5v-9.54h1.35v9.54zM489.43 589.5v-9.28h1.35v9.28zM491.12 589.5v-8.99h1.35v8.99zM492.81 589.5v-9.01h1.35v9.01zM494.51 589.5v-8.84h1.35v8.84zM496.2 589.5v-8.34h1.35v8.34zM497.89 589.5v-7.89h1.35v7.89zM499.58 589.5v-7.61h1.35v7.61zM501.27 589.5v-8.3h1.35v8.3zM502.97 589.5v-8.35h1.35v8.35zM504.66 589.5v-8.12h1.35v8.12zM506.35 589.5v-7.93h1.35v7.93zM508.04 589.5v-8.1h1.35v8.1zM509.73 589.5v-8.43h1.35v8.43zM511.43 589.5v-8.8h1.35v8.8zM513.12 589.5v-8.41h1.35v8.41zM514.81 589.5v-8.1h1.35v8.1zM516.5 589.5v-8.75h1.35v8.75zM518.19 589.5v-8.57h1.35v8.57zM519.89 589.5v-7.98h1.35v7.98zM521.58 589.5v-8.04h1.35v8.04zM523.27 589.5v-8.2h1.35v8.2zM524.96 589.5v-8.07h1.35v8.07zM526.65 589.5v-8.57h1.35v8.57zM528.35 589.5v-9.38h1.35v9.38zM530.04 589.5v-10.24h1.35v10.24zM531.73 589.5v-10.49h1.35v10.49zM533.42 589.5v-10.21h1.35v10.21zM535.11 589.5v-10.71h1.35v10.71zM536.81 589.5v-10.46h1.35v10.46zM538.5 589.5v-11.19h1.35v11.19zM540.19 589.5v-11.56h1.35v11.56zM541.88 589.5v-11.87h1.35v11.87zM543.57 589.5v-12.18h1.35v12.18zM545.27 589.5v-14.14h1.35v14.14zM546.96 589.5v-15.6h1.35v15.6zM548.65 589.5v-16.04h1.35v16.04zM550.34 589.5v-15.79h1.35v15.79zM552.03 589.5v-14.6h1.35v14.6zM553.73 589.5v-14.58h1.35v14.58zM555.42 589.5v-18.87h1.35v18.87zM557.11 589.5v-19.25h1.35v19.25zM558.8 589.5v-20.65h1.35v20.65zM560.49 589.5v-19.71h1.35v19.71zM562.19 589.5v-17.9h1.35v17.9zM563.88 589.5v-18.54h1.35v18.54zM565.57 589.5v-17.65h1.35v17.65zM567.26 589.5v-17.93h1.35v17.93zM568.95 589.5v-16.36h1.35v16.36zM570.65 589.5v-18.3h1.35v18.3zM572.34 589.5v-18.74h1.35v18.74zM574.03 589.5v-18.03h1.35v18.03zM575.72 589.5v-19.01h1.35v19.01zM577.41 589.5v-19.75h1.35v19.75zM579.11 589.5v-20.01h1.35v20.01zM580.8 589.5v-22.63h1.35v22.63zM582.49 589.5v-24.65h1.35v24.65zM584.18 589.5v-24.65h1.35v24.65zM585.87 589.5v-24.93h1.35v24.93zM587.57 589.5v-24.13h1.35v24.13zM589.26 589.5v-22.33h1.35v22.33zM590.95 589.5v-22.26h1.35v22.26zM592.64 589.5v-22.63h1.35v22.63zM594.33 589.5v-21.89h1.35v21.89zM596.03 589.5v-20.96h1.35v20.96zM597.72 589.5v-19.72h1.35v19.72zM599.41 589.5v-20.25h1.35v20.25zM601.1 589.5v-19.55h1.35v19.55zM602.79 589.5v-23.16h1.35v23.16zM604.49 589.5v-22.74h1.35v22.74zM606.18 589.5v-21.28h1.35v21.28zM607.87 589.5v-19.22h1.35v19.22zM609.56 589.5v-19.47h1.35v19.47zM611.25 589.5v-18.99h1.35v18.99zM612.95 589.5v-20.97h1.35v20.97zM614.64 589.5v-20.02h1.35v20.02zM616.33 589.5v-20.3h1.35v20.3zM618.02 589.5v-19.88h1.35v19.88zM619.71 589.5v-19.48h1.35v19.48zM621.41 589.5v-20.95h1.35v20.95zM623.1 589.5v-22.39h1.35v22.39zM624.79 589.5v-20.5h1.35v20.5zM626.48 589.5v-22.91h1.35v22.91zM628.17 589.5v-22.92h1.35v22.92zM629.87 589.5v-23.27h1.35v23.27zM631.56 589.5v-24.28h1.35v24.28zM633.25 589.5v-25.11h1.35v25.11zM634.94 589.5v-24.2h1.35v24.2zM636.63 589.5v-24.2h1.35v24.2zM638.33 589.5v-24.12h1.35v24.12zM640.02 589.5v-23.61h1.35v23.61zM641.71 589.5v-22.99h1.35v22.99zM643.4 589.5v-21.79h1.35v21.79zM645.09 589.5v-21.66h1.35v21.66zM646.79 589.5v-22.06h1.35v22.06zM648.48 589.5v-21.62h1.35v21.62zM650.17 589.5v-20.84h1.35v20.84zM651.86 589.5v-20.58h1.35v20.58zM653.55 589.5v-19.93h1.35v19.93zM655.25 589.5v-18.72h1.35v18.72zM656.94 589.5v-18.72h1.35v18.72zM658.63 589.5v-18.14h1.35v18.14zM660.32 589.5v-17.7h1.35v17.7zM662.01 589.5v-18.5h1.35v18.5zM663.71 589.5v-18.15h1.35v18.15zM665.4 589.5v-18.56h1.35v18.56zM667.09 589.5v-17.68h1.35v17.68zM668.78 589.5v-17.32h1.35v17.32zM670.47 589.5v-18.51h1.35v18.51zM672.17 589.5v-19.66h1.35v19.66zM673.86 589.5v-19.24h1.35v19.24zM675.55 589.5v-18.31h1.35v18.31zM677.24 589.5v-18.38h1.35v18.38zM678.93 589.5v-18.72h1.35v18.72zM680.63 589.5v-16.95h1.35v16.95zM682.32 589.5v-17.78h1.35v17.78zM684.01 589.5v-16.55h1.35v16.55zM685.7 589.5v-14.39h1.35v14.39zM687.39 589.5v-11.52h1.35v11.52zM689.09 589.5v-13.14h1.35v13.14zM690.78 589.5v-14.41h1.35v14.41zM692.47 589.5v-13.51h1.35v13.51zM694.16 589.5v-13.8h1.35v13.8zM695.85 589.5v-12.5h1.35v12.5zM697.55 589.5v-13.64h1.35v13.64zM699.24 589.5v-14.32h1.35v14.32zM700.93 589.5v-15h1.35v15zM702.62 589.5v-14.15h1.35v14.15zM704.31 589.5v-14.15h1.35v14.15zM706.01 589.5v-13.45h1.35v13.45zM707.7 589.5v-14.28h1.35v14.28zM709.39 589.5v-15.04h1.35v15.04zM711.08 589.5v-15.05h1.35v15.05zM712.77 589.5v-15.93h1.35v15.93zM714.47 589.5v-15.4h1.35v15.4zM716.16 589.5v-14.28h1.35v14.28zM717.85 589.5v-13.44h1.35v13.44zM719.54 589.5v-12.24h1.35v12.24zM721.24 589.5v-12.16h1.35v12.16zM722.93 589.5v-11.92h1.35v11.92zM724.62 589.5v-11.32h1.35v11.32zM726.31 589.5v-10.31h1.35v10.31zM728 589.5v-10.04h1.35v10.04zM729.7 589.5v-10.3h1.35v10.3zM731.39 589.5v-9.88h1.35v9.88zM733.08 589.5v-10.35h1.35v10.35zM734.77 589.5v-10.11h1.35v10.11zM736.46 589.5v-10.39h1.35v10.39zM738.16 589.5v-10.47h1.35v10.47zM739.85 589.5v-9.84h1.35v9.84zM741.54 589.5v-9.59h1.35v9.59zM743.23 589.5v-9.15h1.35v9.15zM744.92 589.5v-9.03h1.35v9.03z" fill="#19d1c5" shape-rendering="crispEdges"/>
<rect x="100.5" y="509.5" width="676" height="80" fill="none" stroke="#4a70a2" stroke-width="1" shape-rendering="crispEdges"/>
<text transform="translate(94.4,554.2) scale(0.965,1)" font-size="15.28" fill="#f4f4f4" text-anchor="end">$10B</text>
<text x="107.3" y="604.6" font-size="15" fill="#19d1c5">MC / FDV</text>
<path d="M131.5 606.5V686.5M284.5 606.5V686.5M438.5 606.5V686.5M592.5 606.5V686.5M745.5 606.5V686.5" stroke="#4a70a2" stroke-opacity="0.5" stroke-width="1" fill="none" shape-rendering="crispEdges"/>
<path d="M100.5 622.5H776.5" stroke="#4a70a2" stroke-opacity="0.5" stroke-width="1" fill="none" shape-rendering="crispEdges"/>
<path d="M131 654.4H746" stroke="#d2d2d2" stroke-width="1.1" fill="none"/>
<polyline points="130,654.25 133.75,654.5 136.25,653 138.75,655.5 140.62,653 142.5,654.25 143.75,651.12 145.62,650.5 147.5,653 148.75,653.62 150.62,645.5 152.5,647.38 154.38,642.38 156.25,640.5 158.12,642.38 161.25,641.12 163.12,636.12 166.25,629.25 168.75,631.75 171.25,634.88 173.12,636.75 175,628.62 176.88,631.12 178.5,634.25 181.25,621.75 183.12,624.88 185.62,632.38 188.12,634.25 190,621.75 191.88,630.5 195,626.12 196.88,629.25 200,637.38 203.12,633.62 205.62,633 206.88,632.38 208.75,635.5 211.25,628 213.5,620.5 215.62,619.88 217.5,619.25 220,632.38 221.88,633.62 223.75,636.12 225,636.12 227.5,638 230.62,641.75 233.75,636.75 235.25,638.62 236.88,636.75 239.38,641.75 241.88,640.5 243.75,639.88 246.25,643 248.75,643.62 250.62,644.25 253.12,648 255.62,651.12 257.75,648.62 259.38,647.38 261.25,649.88 263.75,656.12 265.62,650.5 268.12,655.5 270.62,660.5 273.75,657.38 276.25,659.88 278.75,661.75 281.25,661.12 283.75,659.88 286.25,661.75 288.75,661.75 292.5,664.88 295.62,661.75 297.5,661.75 299.38,663 301.25,666.12 303.12,663 306.25,661.12 308.75,660.5 310.62,659.88 311.25,656.75 313.12,666.12 315,664.25 316.88,665.5 319.38,661.75 321.88,659.88 323.75,659.88 325,659.38 326.88,660.62 329.38,665 331.88,663.12 334.38,663.75 336.88,662.5 340,661.25 343.12,664.38 345.62,663.75 348.12,661.25 351.25,661.25 353.5,660 355.62,663.12 358.12,663.12 360,663.75 361.88,663.12 363.75,665.62 366.25,666.25 368.75,666.88 370.62,668.75 372.25,666.88 374,667.5 375.62,664.38 377.25,667.5 380,664.38 381.88,666.88 384.38,668.75 386.88,669.38 390,668.75 393.12,668.5 395.62,668.12 397.5,666.88 399.38,666.88 403.12,665.62 406.25,666.88 408.75,668.75 411.25,668.12 413.75,669.38 416.88,670.62 420,671.88 423.12,671.25 425,667.5 426.88,666.25 428.12,665 430.62,666.88 433.12,663.12 435,666.25 436.88,668.12 438.75,667.5 440.62,668.75 441.88,666.88 443.75,668.12 445.62,666.88 447.5,666.25 450,668.75 452.5,668.12 456.25,667.25 458.75,668.12 461.88,671.5 465,670.62 468.75,669.38 471.88,671.88 474.38,670 476.88,670.62 480,668.5 482.5,670 485,671.25 488.75,670.62 492.5,672.25 496.25,672.25 500,674 502.5,671.88 505,673.12 508.12,674 511.25,673.12 513.12,672.5 515.62,674 518.12,672.5 520.62,674.38 523.12,674 525,674.38 528.12,672.5 531.25,670.62 534.38,671.25 537.5,670.62 540.62,669.38 543.75,669.38 546.25,666.25 547.5,663.75 549.38,663.12 551.25,665 553.12,666.25 555,662.5 556.25,658.12 557.75,657.5 559.75,655.62 561.25,658.12 563.12,660.62 565.62,659.38 567.5,660 569.38,661.25 571.25,658.12 573.12,658.12 574.38,659.38 576.25,658.12 578.12,656.88 580,656.88 581.88,651.25 583.12,650.62 585,650.62 586.5,650.62 588.12,653.12 590,655.62 591.88,653.75 593.5,653.12 595.62,655 597.5,656.25 600,655 601.5,656.88 603.5,651.25 605.62,654.38 606.88,655.62 608.5,657.5 610.62,656.25 612.5,656.88 614,655 615.62,656.25 618.12,655 620.62,655.62 622.5,652.5 625,654.38 626.88,651.25 630,650.62 632.5,648.75 634.38,648.12 636.25,649.38 638.75,650.62 640.62,651.88 643.12,653.12 645.62,654.38 648.12,655 650.62,656.25 653.12,657.5 655.62,658.75 658.12,658.12 660.62,658.75 662.25,656.88 664,658.12 665.62,657.5 668.12,660 670.62,658.75 672.5,658.12 675,660 677.5,660.62 679.38,660 681.25,661.88 683.12,661.25 685,665 686.88,668.75 688.75,666.25 690.62,665 693.12,666.88 695.62,667.25 698.12,664.38 700,662.8 703,664 706,665.5 708.5,663.5 711,663.5 713.2,662 715.5,665 718,666.5 720,668 722.5,667.8 725,669.5 727,671.5 729.5,669 731.5,670.5 733.5,669 735.5,669.5 738,670 740,671 742,671.2 744,671.8 746,671.2" fill="none" stroke="#ffa03c" stroke-width="1.8" stroke-linejoin="round"/>
<polyline points="130,654.25 133.75,654.88 136.25,657.38 138.75,659.25 140.62,656.12 142.5,657.38 143.75,653.62 145.62,653 147.5,654.88 148.75,655.5 150.62,647.38 152.5,648 154.38,643 156.25,641.12 158.12,642.38 161.25,640.5 163.12,636.12 166.25,629.88 168.75,631.12 171.25,633 173.12,634.25 175,624.88 176.88,628 178.5,631.75 181.25,616.75 183.12,619.88 185.62,625.5 188.12,628 189.75,609.88 191.88,620.5 194.38,611.75 196.88,617.38 200,627.38 203.12,621.75 205.62,624.25 206.88,623 208.75,626.12 211.25,620.5 213.5,612.38 215.62,614.25 217.5,613.62 220,623.62 221.88,626.75 223.75,628.62 225,624.88 227.5,626.12 230.62,631.12 233.5,623 235.25,629.88 236.88,628.62 239.38,640.5 240.62,644.88 243.12,639.25 245.62,643 248.12,644.25 250.62,644.25 253.12,648 255.62,650.5 257.75,648 259.38,646.12 261.25,648.62 263.12,653 265.62,644.88 268.12,650.5 270.62,655.5 273.75,651.75 276.25,655.5 278.75,657.38 281.25,657.38 283.75,655.5 286.25,656.75 288.75,656.75 292.5,657.38 295.62,653.62 297.5,653 299.38,654.25 301.25,658 303.12,651.12 306.25,648.62 308.75,649.88 310.62,644.88 311.5,644.25 313.12,658 315,652.38 316.88,655.5 319.38,648 321.88,646.12 323.75,646.75 325,645 326.88,645.62 329.38,652.5 331.88,651.25 334.38,652.5 336.88,650 340,646.88 343.12,653.12 345.62,653.12 348.12,648.12 351.25,649.38 353.5,647.5 355.62,651.25 358.12,650 360,651.25 361.88,650 363.75,653.12 366.25,652.5 368.75,653.12 370.25,656.88 372.25,651.88 374,651.88 375.62,648.12 377.25,653.12 380,651.25 381.88,656.25 384.38,658.12 386.88,659.38 390,660 393.12,660 395.62,659.38 397.5,656.88 399.38,657.5 403.12,656.25 406.25,658.12 408.75,660 411.25,658.12 413.75,660 416.88,661.88 420,663.75 423.12,663.12 425,657.5 426.88,656.88 428.12,655.62 430.62,658.12 433.12,654.38 435,658.12 436.88,660 438.75,658.75 440.62,660.62 441.88,657.5 443.75,658.75 445.62,657.5 447.5,656.25 450,660 452.5,658.75 456.25,657.5 458.75,658.75 460,659.38 462.5,661.88 465,660.62 468.75,659.38 471.88,662.5 474.38,660 476.88,659.38 480,657.5 482.5,660 485,661.88 488.75,660 492.5,662.5 496.25,662.5 500,664.38 502.5,660.62 505,663.12 508.12,663.75 511.25,662.5 513.12,661.25 515.62,663.75 518.12,661.88 520.62,663.75 523.12,664.38 525,664.38 528.12,662.5 531.25,660 534.38,660.62 537.5,658.75 540.62,657.5 543.75,658.12 546.25,655 547.5,650.62 549.38,650 551.25,653.75 553.12,657.5 555,651.25 556.25,644.38 557.75,645 559.75,641.25 561.25,643.75 563.12,646.88 565.62,645 567.5,645.62 569.38,644.38 571.25,639.38 573.12,640 574.38,642.5 576.25,640 578.12,638.75 580,639.38 581.88,632.5 583.12,630.62 585,631.25 586.5,628.75 588.12,635 590,641.25 591.88,638.12 593.5,636.88 595.62,640 597.5,642.5 600,640 601.5,643.12 603.5,634.38 605.62,640 606.88,644.38 608.5,648.12 610.62,644.38 612.5,646.25 614,645 615.62,648.12 618.12,646.25 620.62,646.25 622.5,642.5 625,646.88 626.88,640.62 630,640 632.5,638.75 634.38,638.75 636.25,641.88 638.75,643.75 640.62,646.88 643.12,648.75 645.62,650 648.12,648.75 650.62,651.25 653.12,650.62 655.62,653.12 658.12,651.25 660.62,651.25 662.25,646.88 664,650 665.62,650 668.12,653.12 670.62,651.25 672.5,650.62 675,653.75 677.5,653.75 679.38,653.12 681.25,656.25 683.12,653.75 685,658.12 686.88,661.88 688.75,659.38 690.62,656.88 693.12,660 695.62,660 698.12,656.25 700,654.5 703,656 706,657 708.5,655 711,655.5 713.2,652.8 715.5,656 718,658.5 720,661 722.5,660 725,662 727,664 729.5,659.5 731.5,662 733.5,659.5 735.5,661 738,660.5 740,663 742,661.5 744,662 746,661" fill="none" stroke="#ee82ee" stroke-width="1.8" stroke-linejoin="round"/>
<polyline points="130,654 133.75,653.62 135.62,651.75 137.5,654.88 139.38,651.75 140.62,651.12 142.5,653.62 143.75,649.88 145.62,649.25 147.5,652.38 148.75,653.62 150.62,646.75 152.5,650.5 154.38,644.88 156.25,643 158.12,645.5 161.25,644.88 163.12,640.5 166.25,636.12 168.75,638.62 171.25,640.5 173.12,641.75 175,633.62 176.88,636.12 178.5,639.25 181.25,627.38 183.12,629.88 185.62,636.12 188.12,638 190,623.62 191.88,633 195,626.75 196.88,629.88 200,638 203.12,634.25 205.62,634.88 206.88,633.62 208.75,636.75 211.25,629.88 213.12,623 215,621.75 217.5,623.62 220,633.62 221.88,634.25 223.75,636.75 225,634.88 227.5,636.75 230.62,639.88 233.75,633 235.25,636.12 236.88,632.38 239.38,639.88 241.88,636.12 243.75,633.62 246.25,638.62 248.75,639.88 250.62,639.25 253.12,643.62 255.62,647.38 257.75,643 259.38,641.75 261.25,644.25 263.12,651.12 265.62,643 268.12,648.62 270.62,653.62 273.75,649.88 276.25,653 278.75,654.88 281.25,654.88 283.75,653.62 286.25,655.5 288.75,655.5 292.5,658 295.62,654.88 297.5,654.88 299.38,656.75 301.25,661.12 303.12,656.12 306.25,654.25 308.75,653.62 310.62,653 311.25,646.12 313.12,659.88 315,653 316.88,656.75 319.38,650.5 321.88,648.62 323.75,649.88 325,648.12 326.88,648.75 329.38,653.12 331.88,650.62 334.38,652.5 336.88,649.38 340,648.75 343.12,653.12 345.62,652.5 348.12,648.75 351.25,649.38 353.5,646.88 355.62,650.62 358.12,649.38 360,650.62 361.88,649.38 363.75,653.12 366.25,653.75 368.75,653.75 370.25,658.12 372.25,651.88 374,652.5 375.62,646.88 377.25,653.12 380,646.25 381.88,651.25 384.38,653.75 386.88,655 390,653.75 393.12,653.12 395.62,652.5 397.5,649.38 399.38,650.62 403.12,648.5 406.25,651.25 408.75,653.75 411.25,653.12 413.75,655.62 416.88,657.5 420,660 423.12,658.75 425,652.5 426.88,654.38 428.12,653.75 430.62,657.5 433.12,653.12 435,657.5 436.88,660.62 438.75,659.38 440.62,661.25 441.88,658.12 443.75,659.38 445.62,658.12 447.5,656.25 450,660.62 452.5,659.38 456.25,658.12 458.75,659.38 461.88,665 465,663.75 468.75,662.5 471.88,665.62 474.38,663.12 476.88,663.12 480,660.62 482.5,663.75 485,665.62 488.75,664.38 492.5,665.62 496.25,666.25 500,667.5 502.5,663.75 505,666.25 508.12,666.88 511.25,666.25 513.12,665 515.62,666.88 518.12,664.38 520.62,668.12 523.12,667.5 525,667.5 528.12,665.62 531.25,664.38 534.38,665.62 537.5,664.38 540.62,663.75 543.75,665.62 546.25,663.12 547.5,660.62 549.38,660.62 551.25,662.5 553.12,663.75 555,660 556.25,656.25 557.75,655.62 559.75,653.75 561.25,656.25 563.12,658.12 565.62,656.88 567.5,657.5 569.38,658.12 571.25,654.38 573.12,654.38 574.38,656.88 576.25,656.25 578.12,655 580,655.62 581.88,651.88 583.12,651.25 585,651.25 586.5,651.25 588.12,654.38 590,658.12 591.88,656.25 593.5,655.62 595.62,657.5 597.5,658.75 600,656.88 601.5,659.38 603.5,654.38 605.62,658.12 606.88,660 608.5,661.88 610.62,660 612.5,660.62 614,658.75 615.62,660 618.12,658.75 620.62,659.38 622.5,656.25 625,659.38 626.88,655 630,654.38 632.5,652.25 634.38,651.88 636.25,653.12 638.75,655 640.62,656.88 643.12,657.5 645.62,658.12 648.12,657.5 650.62,658.75 653.12,660 655.62,661.25 658.12,660 660.62,660.62 662.25,658.12 664,659.38 665.62,658.75 668.12,661.25 670.62,660 672.5,659.38 675,661.25 677.5,661.88 679.38,661.88 681.25,663.75 683.12,662.5 685,666.25 686.88,668.12 688.75,666.88 690.62,665.62 693.12,667.5 695.62,667.5 698.12,665 700,663.5 703,664.5 706,666 708.5,664 711,664 713.2,662.5 715.5,665.5 718,666.5 720,668 722.5,667.5 725,669 727,671 729.5,668 731.5,669.5 733.5,668 735.5,669 738,669 740,670 742,670 744,670.5 746,669.5" fill="none" stroke="#2aa9f4" stroke-width="1.8" stroke-linejoin="round"/>
<rect x="100.5" y="606.5" width="676" height="80" fill="none" stroke="#4a70a2" stroke-width="1" shape-rendering="crispEdges"/>
<text transform="translate(94.4,628.2) scale(1,1)" font-size="15.28" fill="#f4f4f4" text-anchor="end">2.00</text>
<text x="107.3" y="701.6" font-size="15" fill="#ffa03c">vBTC</text>
<text x="155.2" y="701.6" font-size="15" fill="#2aa9f4">vETH</text>
<text x="209.6" y="701.6" font-size="15" fill="#ee82ee">vSOL</text>
<path d="M131.5 704.5V736.5M284.5 704.5V736.5M438.5 704.5V736.5M592.5 704.5V736.5M745.5 704.5V736.5" stroke="#4a70a2" stroke-opacity="0.5" stroke-width="1" fill="none" shape-rendering="crispEdges"/>
<g fill="#ee82ee" fill-opacity="0.85"><circle cx="153.1" cy="713.21" r="2.7"/><circle cx="154.76" cy="712.72" r="2.7"/><circle cx="156.41" cy="712.89" r="2.7"/><circle cx="158.07" cy="713.72" r="2.7"/><circle cx="159.72" cy="712.95" r="2.7"/><circle cx="161.38" cy="711.93" r="2.7"/><circle cx="163.04" cy="710.69" r="2.7"/><circle cx="164.69" cy="710.31" r="2.7"/><circle cx="166.35" cy="710.02" r="2.7"/><circle cx="168.01" cy="710.44" r="2.7"/><circle cx="169.66" cy="710.85" r="2.7"/><circle cx="171.32" cy="711.32" r="2.7"/><circle cx="172.97" cy="712.98" r="2.7"/><circle cx="174.63" cy="713.5" r="2.7"/><circle cx="176.29" cy="713.97" r="2.7"/><circle cx="177.94" cy="713.93" r="2.7"/><circle cx="179.6" cy="712.44" r="2.7"/><circle cx="181.9" cy="711.9" r="2.7"/><circle cx="433.5" cy="713.12" r="2.7"/><circle cx="533.5" cy="713.12" r="2.7"/><circle cx="538.1" cy="712.52" r="2.7"/><circle cx="539.86" cy="712.5" r="2.7"/><circle cx="541.62" cy="712.25" r="2.7"/><circle cx="543.39" cy="711.44" r="2.7"/><circle cx="545.15" cy="708.64" r="2.7"/><circle cx="546.91" cy="707.32" r="2.7"/><circle cx="548.68" cy="706.58" r="2.7"/><circle cx="550.44" cy="706.54" r="2.7"/><circle cx="552.2" cy="708.5" r="2.7"/><circle cx="553.4" cy="712.19" r="2.7"/><circle cx="555.02" cy="711.6" r="2.7"/><circle cx="556.65" cy="709.88" r="2.7"/><circle cx="558.27" cy="708.36" r="2.7"/><circle cx="559.9" cy="707.55" r="2.7"/><circle cx="561.52" cy="709.53" r="2.7"/><circle cx="563.15" cy="712.12" r="2.7"/><circle cx="564.77" cy="713.12" r="2.7"/><circle cx="566.4" cy="713.38" r="2.7"/><circle cx="587.2" cy="712.59" r="2.7"/><circle cx="593.6" cy="712.65" r="2.7"/></g>
<g fill="#19d1c5" fill-opacity="0.85"><circle cx="239.3" cy="727.46" r="2.4"/><circle cx="241" cy="727.38" r="2.4"/><circle cx="257.3" cy="726.77" r="2.4"/><circle cx="266.9" cy="726.88" r="2.4"/><circle cx="268.56" cy="727.21" r="2.4"/><circle cx="270.22" cy="727.49" r="2.4"/><circle cx="271.88" cy="727.37" r="2.4"/><circle cx="273.54" cy="727.26" r="2.4"/><circle cx="275.2" cy="726.67" r="2.4"/><circle cx="282.9" cy="727.9" r="2.4"/><circle cx="284.6" cy="726.65" r="2.4"/><circle cx="288.7" cy="726.79" r="2.4"/><circle cx="290.63" cy="727.82" r="2.4"/><circle cx="292.57" cy="726.37" r="2.4"/><circle cx="294.5" cy="722.88" r="2.4"/><circle cx="374.4" cy="728.71" r="2.4"/><circle cx="378.2" cy="726.08" r="2.4"/><circle cx="423.2" cy="727.25" r="2.4"/><circle cx="472.5" cy="728.5" r="2.4"/><circle cx="504.8" cy="728" r="2.4"/><circle cx="507" cy="726.62" r="2.4"/><circle cx="655" cy="730" r="2.4"/><circle cx="656.76" cy="732.93" r="2.4"/><circle cx="658.52" cy="733.54" r="2.4"/><circle cx="660.28" cy="733.52" r="2.4"/><circle cx="662.04" cy="732.91" r="2.4"/><circle cx="663.8" cy="730.58" r="2.4"/><circle cx="665.56" cy="728.81" r="2.4"/><circle cx="667.32" cy="727.86" r="2.4"/><circle cx="669.08" cy="727.39" r="2.4"/><circle cx="670.84" cy="726.44" r="2.4"/><circle cx="672.6" cy="723.1" r="2.4"/><circle cx="688.4" cy="726.76" r="2.4"/><circle cx="696.5" cy="726.62" r="2.4"/><circle cx="726.3" cy="726.65" r="2.4"/><circle cx="727.97" cy="726.28" r="2.4"/><circle cx="729.63" cy="726.13" r="2.4"/><circle cx="731.3" cy="727.58" r="2.4"/><circle cx="732.97" cy="727.99" r="2.4"/><circle cx="734.63" cy="728.41" r="2.4"/><circle cx="736.3" cy="730.12" r="2.4"/><circle cx="737.97" cy="730.36" r="2.4"/><circle cx="739.63" cy="729.24" r="2.4"/><circle cx="741.3" cy="728.67" r="2.4"/><circle cx="742.97" cy="728.02" r="2.4"/><circle cx="744.63" cy="727.66" r="2.4"/><circle cx="746.3" cy="728" r="2.4"/></g>
<polyline points="131,720 151,720 153.12,713.12 155.62,712.5 158.12,713.75 160.62,712.5 163.12,710.62 166.25,710 168.75,710.62 171.25,711.25 173.12,713.12 175.62,713.75 177.5,714.38 179.38,712.5 181.88,711.88 183.75,713.75 186.25,716.88 188.12,720 190,718.12 191.88,720.62 194.38,718.75 196.25,717.5 198.75,720 201.25,721.25 205,725 208.12,723.12 211.25,718.75 213.12,718.12 215.62,713.75 218.12,717.5 220.62,720.62 223.12,720.62 225,719.38 227.5,720.62 230,723.12 233.75,719.38 236.25,723.75 238.12,726.88 240.62,728.12 242.5,724.38 244.38,721.25 247.5,720.62 250.62,721.25 253.75,720.62 255.62,724.38 257.25,726.88 258.75,723.75 261.25,725.62 263.75,726.25 265.25,723.75 266.88,726.88 270,727.5 273.75,727.25 276.25,726.25 278.75,724.38 281.25,726.25 283.12,728.12 285,726.25 286.88,723.75 288.75,726.88 291.25,728.12 293.12,725.62 295,721.88 296.88,723.12 298.75,722.5 300.62,724.38 303.12,720.62 305.62,721.88 307.5,720 309.38,721.88 311.25,718.75 313.12,723.12 315,721.88 318.12,721.25 321.25,720 325,718.75 327.5,721.88 330,723.12 333.12,721.25 335,724.38 336.88,718.75 338.12,720 340,716.88 341.88,720 343.75,725 345,726.25 347.5,722.5 350,718.12 351.88,716.88 353.75,713.5 355.62,718.12 357.5,720 359.38,719.38 360.62,721.88 361.88,720 363.75,722.5 365.62,723.75 368.12,721.88 370,723.75 372.5,726.88 374.38,728.75 376.25,725.62 378.12,726.25 380.62,720.62 382.5,723.12 384.38,723.75 386.25,725.62 388.75,723.12 391.25,722.5 393.12,720.62 394.38,718.75 396.25,720 398.12,716.25 400,716.88 401.88,715.62 404.38,718.12 406.88,715.62 409.38,715.62 411.88,714.38 413.75,716.25 416.25,720 418.75,721.88 421.25,725.62 423.12,727.5 425,721.25 426.88,717.5 428.75,715.62 431.25,716.25 433.5,713.12 435,716.25 436.88,718.75 438.75,716.88 441.25,716.25 443.75,715.62 446.88,715 448.75,718.75 451.25,722.5 453.75,720 456.25,723.12 459.38,719.38 461.88,723.75 463.75,722.5 465.62,724.38 468.12,721.88 470.62,726.25 472.5,728.5 475,723.12 476.88,723.75 480,721.25 482.5,722.5 485.62,719.38 488.75,720.62 492.5,723.75 495,720 497.5,723.12 499.38,725.62 501.88,726.25 505,728.12 507.5,726.25 510.62,722.5 513.75,723.12 516.88,720 519.38,720.62 521.88,718.75 525,720 526.88,721.25 528.75,717.5 531.25,713.75 533.5,713.12 535.62,715 538.12,712.5 540.62,712.5 543.12,711.88 545,708.75 547.5,706.88 550,706.25 551.88,707.5 553.5,712.5 555.62,711.25 557.5,708.75 560,707.5 561.88,710 563.75,713.12 566.25,713.12 568.12,716.25 570.62,717.5 574.38,717.5 576.88,715.62 579.38,718.75 581.88,716.88 584.38,715.62 587.12,712.5 588.75,714.38 591.25,715.62 593.5,712.5 595.62,715.62 598.12,717.5 600.62,718.75 603.12,716.88 605.62,721.88 608.12,725.62 611.25,725.62 613.12,721.25 615.62,722.5 619.38,721.25 622.5,718.12 625,718.75 627.5,720 630,718.12 632.5,713.75 635,714.38 636.88,715.62 638.75,714.75 641.88,716.25 644.38,717.5 646.88,720.62 648.75,716.88 650.62,723.75 653.12,725.62 655,730 656.88,733.12 659.38,733.75 661.88,733.12 663.75,730.62 666.25,728.12 668.75,727.5 670.62,726.88 672.5,723.12 675,722.5 676.88,723.12 679.38,719.38 681.25,722.5 683.12,720.62 685,722.5 686.88,726.25 688.75,726.88 690.62,723.75 692.5,722.5 694.38,724.38 696.25,726.88 698.12,725 700.62,723.12 703.12,722.5 706.25,724.38 708.12,720.62 710,716.25 711.88,714.38 713.5,715.5 715,718 718,718.5 721,721.5 725,726 727,727 729,725.5 731,727.5 733,728 735,728.5 737,731 738.5,730 740,729 742,728.5 744,727.5 746,728" fill="none" stroke="#ffffff" stroke-opacity="0.7" stroke-width="1.5" stroke-linejoin="round"/>
<rect x="100.5" y="704.5" width="676" height="32" fill="none" stroke="#4a70a2" stroke-width="1" shape-rendering="crispEdges"/>
<text x="107.3" y="750.7" font-size="15" fill="#f4f4f4">RSI</text>
<g transform="translate(625.18,787.65) scale(1.05,1)"><text x="0" y="0" font-family="'DejaVu Sans Light','DejaVu Sans ExtraLight','DejaVu Sans',sans-serif" font-weight="200" font-size="58.3" fill="#ffffff" stroke="#0e1520" stroke-width="0.9" stroke-linejoin="miter">A</text></g>
<polygon points="635.89,771.14 655.87,771.14 657.25,775.5 634.51,775.5" fill="#0e1520"/>
<g transform="scale(1.15,1)"><text x="578.85 598.18 617.28 635.23 645.35" y="786.4" font-family="'DejaVu Sans Light','DejaVu Sans ExtraLight','DejaVu Sans',sans-serif" font-weight="200" font-size="33.4" fill="#ffffff" stroke="#ffffff" stroke-width="0.5" stroke-linejoin="round">ugura</text></g>
<circle cx="645.95" cy="771.4" r="2.45" fill="#ff4a22"/>
<path d="M634 791.5H658.1M766.4 791.5H782.9" stroke="#bd3e29" stroke-width="1.15" fill="none"/>
</svg>
</body></html>
